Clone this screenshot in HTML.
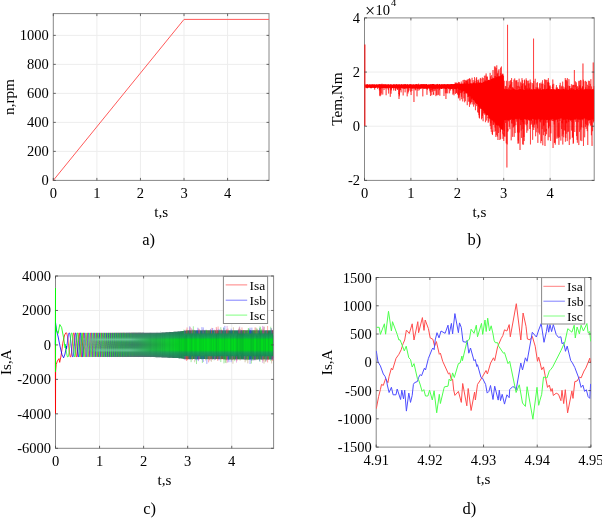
<!DOCTYPE html><html><head><meta charset="utf-8"><style>html,body{margin:0;padding:0;background:#fff}svg{display:block;will-change:transform}</style></head><body>
<svg width="602" height="518" viewBox="0 0 602 518" font-family='"Liberation Serif", serif' fill="#000">
<rect width="602" height="518" fill="#fff"/>
<path d="M96.88 13.60V180.40M140.45 13.60V180.40M184.03 13.60V180.40M227.60 13.60V180.40M53.30 151.39H269.00M53.30 122.38H269.00M53.30 93.37H269.00M53.30 64.37H269.00M53.30 35.36H269.00" stroke="#ededed" stroke-width="1" fill="none"/>
<rect x="53.30" y="13.60" width="215.70" height="166.80" fill="none" stroke="#888888" stroke-width="1"/>
<polyline points="53.3,180.4 184.03,19.4 269,19.4" fill="none" stroke="#ff5a5a" stroke-width="1"/>
<path d="M53.30 180.40v-2.5M53.30 13.60v2.5M96.88 180.40v-2.5M96.88 13.60v2.5M140.45 180.40v-2.5M140.45 13.60v2.5M184.03 180.40v-2.5M184.03 13.60v2.5M227.60 180.40v-2.5M227.60 13.60v2.5M53.30 180.40h2.5M269.00 180.40h-2.5M53.30 151.39h2.5M269.00 151.39h-2.5M53.30 122.38h2.5M269.00 122.38h-2.5M53.30 93.37h2.5M269.00 93.37h-2.5M53.30 64.37h2.5M269.00 64.37h-2.5M53.30 35.36h2.5M269.00 35.36h-2.5" stroke="#444" stroke-width="0.8" fill="none"/>
<text x="53.30" y="197.90" font-size="14.5" text-anchor="middle">0</text>
<text x="96.88" y="197.90" font-size="14.5" text-anchor="middle">1</text>
<text x="140.45" y="197.90" font-size="14.5" text-anchor="middle">2</text>
<text x="184.03" y="197.90" font-size="14.5" text-anchor="middle">3</text>
<text x="227.60" y="197.90" font-size="14.5" text-anchor="middle">4</text>
<text x="48.80" y="185.40" font-size="14.5" text-anchor="end">0</text>
<text x="48.80" y="156.39" font-size="14.5" text-anchor="end">200</text>
<text x="48.80" y="127.38" font-size="14.5" text-anchor="end">400</text>
<text x="48.80" y="98.37" font-size="14.5" text-anchor="end">600</text>
<text x="48.80" y="69.37" font-size="14.5" text-anchor="end">800</text>
<text x="48.80" y="40.36" font-size="14.5" text-anchor="end">1000</text>
<text x="161.15" y="217.40" font-size="15.2" text-anchor="middle">t,s</text>
<text transform="translate(14.30 97.00) rotate(-90)" font-size="15.2" text-anchor="middle">n,rpm</text>
<text x="148.70" y="245.30" font-size="16.5" text-anchor="middle">a)</text>
<path d="M410.90 17.90V180.40M457.31 17.90V180.40M503.71 17.90V180.40M550.12 17.90V180.40M364.50 126.23H594.20M364.50 72.07H594.20" stroke="#ededed" stroke-width="1" fill="none"/>
<rect x="364.50" y="17.90" width="229.70" height="162.50" fill="none" stroke="#888888" stroke-width="1"/>
<polygon points="365.5,84.56 366.2,84.64 366.9,84.4 367.6,84.25 368.3,84.64 369,84.39 369.7,84.36 370.4,84.49 371.1,84.73 371.8,84.54 372.5,84.33 373.2,84.53 373.9,84.24 374.6,84.45 375.3,84.53 376,84.46 376.7,84.22 377.4,84.56 378.1,84.39 378.8,84.62 379.5,84.34 380.2,84.46 380.9,84.52 381.6,84.24 382.3,84.45 383,84.37 383.7,84.22 384.4,84.35 385.1,84.59 385.8,84.67 386.5,84.48 387.2,84.52 387.9,84.4 388.6,84.37 389.3,84.65 390,84.5 390.7,84.6 391.4,84.23 392.1,84.63 392.8,84.44 393.5,84.25 394.2,84.43 394.9,84.59 395.6,84.43 396.3,84.35 397,84.16 397.7,84.38 398.4,84.3 399.1,84.15 399.8,84.15 400.5,84.62 401.2,84.34 401.9,84.56 402.6,84.42 403.3,84.3 404,84.5 404.7,84.19 405.4,84.12 406.1,84.52 406.8,84.32 407.5,84.12 408.2,84.5 408.9,84.47 409.6,84.2 410.3,84.19 411,84.57 411.7,84.27 412.4,84.57 413.1,84.58 413.8,84.35 414.5,84.46 415.2,84.3 415.9,84.29 416.6,84.11 417.3,84.34 418,84.2 418.7,84.41 419.4,84.38 420.1,84.23 420.8,84.17 421.5,84.17 422.2,84.48 422.9,84.36 423.6,84.35 424.3,84.21 425,84.28 425.7,84.37 426.4,84.08 427.1,84.43 427.8,84.41 428.5,84.5 429.2,84.48 429.9,84.49 430.6,84.05 431.3,84.16 432,84.12 432.7,84.04 433.4,84.11 434.1,84.03 434.8,84.49 435.5,84.42 436.2,84.32 436.9,84.3 437.6,84.41 438.3,84.43 439,84.17 439.7,84.06 440.4,84.4 441.1,84.43 441.8,84.06 442.5,84.43 443.2,84.28 443.9,84.29 444.6,84.32 445.3,84.39 446,84.14 446.7,84.41 447.4,84.06 448.1,84.3 448.8,84.25 449.5,84.16 450.2,84.19 450.9,84.01 451.6,84.03 452.3,84.37 453,84.14 453.7,84.06 454.4,84.12 455.1,83.69 455.8,84.26 456.5,83.62 457.2,83.65 457.9,83.62 458.6,84.52 459.3,83.77 460,84.11 460.7,83.86 461.4,83.75 462.1,83.38 462.8,84.17 463.5,84.01 464.2,83.25 464.9,84.05 465.6,83.42 466.3,83.97 467,83.19 467.7,83.97 468.4,83.84 469.1,84.07 469.8,83.84 470.5,83.64 471.2,83.75 471.9,83.67 472.6,83.22 473.3,82.78 474,83.35 474.7,83.32 475.4,83.09 476.1,83.7 476.8,82.73 477.5,83.72 478.2,83.35 478.9,83.56 479.6,82.53 480.3,82.45 481,82.79 481.7,82.79 482.4,82.78 483.1,82.39 483.8,81.83 484.5,81.43 485.2,81.7 485.9,80.7 486.6,81.49 487.3,80.51 488,80.27 488.7,79.83 489.4,79.73 490.1,80.39 490.8,79.3 491.5,79.12 492.2,78.86 492.9,78.99 493.6,78.43 494.3,78.73 495,77.56 495.7,78.3 496.4,77.12 497.1,76.81 497.8,76.88 498.5,76.05 499.2,76.44 499.9,75.72 500.6,76.19 501.3,75.82 502,75.37 502.7,75.03 503.4,74.26 504.1,87.93 504.8,90 505.5,89.3 506.2,89.09 506.9,89.01 507.6,89.59 508.3,89.24 509,89.74 509.7,90.04 510.4,89.4 511.1,89.9 511.8,89.7 512.5,89.56 513.2,88.98 513.9,88.92 514.6,89.46 515.3,89.76 516,89.78 516.7,89.58 517.4,90.02 518.1,89.44 518.8,89.56 519.5,89.61 520.2,89.13 520.9,89.14 521.6,89.8 522.3,89.56 523,89.46 523.7,89.88 524.4,89.67 525.1,89.57 525.8,89.79 526.5,89.46 527.2,89.5 527.9,89.89 528.6,89.91 529.3,89.44 530,88.94 530.7,89.93 531.4,89.57 532.1,89.71 532.8,89.4 533.5,89.25 534.2,89.42 534.9,89.32 535.6,89.35 536.3,90.04 537,89.35 537.7,89.96 538.4,89.72 539.1,89.94 539.8,89.49 540.5,89.4 541.2,89.89 541.9,89.82 542.6,89.35 543.3,89.14 544,89.75 544.7,88.97 545.4,89.88 546.1,88.97 546.8,89.2 547.5,89.35 548.2,89.21 548.9,89.53 549.6,89.14 550.3,89.25 551,89.21 551.7,89.41 552.4,89.75 553.1,89.06 553.8,89.82 554.5,90.01 555.2,89.65 555.9,89.8 556.6,89.21 557.3,89.49 558,89.43 558.7,89.06 559.4,89.11 560.1,90.05 560.8,89.12 561.5,89.47 562.2,89.45 562.9,89.22 563.6,89.12 564.3,89.39 565,89.88 565.7,90.01 566.4,89.7 567.1,89.7 567.8,89.83 568.5,90.04 569.2,89.04 569.9,88.94 570.6,90 571.3,89.63 572,89.71 572.7,90.04 573.4,89.3 574.1,88.92 574.8,89.73 575.5,89.92 576.2,89.3 576.9,89.06 577.6,89.26 578.3,90.01 579,89.98 579.7,89.92 580.4,88.9 581.1,89.19 581.8,89.86 582.5,89.15 583.2,90.03 583.9,89.74 584.6,89.88 585.3,89.52 586,89.56 586.7,89 587.4,89.82 588.1,89.28 588.8,89.45 589.5,89.25 590.2,89.66 590.9,89.35 591.6,89.74 592.3,88.93 593,89.76 593.7,89.78 593.7,118.97 593,118.79 592.3,120.61 591.6,119.23 590.9,120.04 590.2,120.08 589.5,120.12 588.8,120.37 588.1,119.81 587.4,119.76 586.7,118.96 586,120.33 585.3,118.38 584.6,118.58 583.9,118.61 583.2,118.94 582.5,118.94 581.8,119.95 581.1,118.64 580.4,120.19 579.7,119.27 579,119.93 578.3,118.97 577.6,119.37 576.9,118.74 576.2,118.49 575.5,120.11 574.8,119.31 574.1,120.04 573.4,119.53 572.7,119.76 572,119.67 571.3,119.9 570.6,120.68 569.9,120.29 569.2,119.06 568.5,120.43 567.8,118.81 567.1,119.74 566.4,118.42 565.7,120.44 565,118.69 564.3,119.3 563.6,119.78 562.9,120.2 562.2,118.69 561.5,118.34 560.8,118.7 560.1,118.36 559.4,118.98 558.7,118.63 558,119.84 557.3,118.64 556.6,119.35 555.9,119.13 555.2,120.14 554.5,119.88 553.8,119.47 553.1,119.07 552.4,118.77 551.7,120.15 551,118.46 550.3,119.03 549.6,120.61 548.9,119.81 548.2,119.44 547.5,119.83 546.8,119.84 546.1,119.94 545.4,119.37 544.7,120.06 544,120.15 543.3,119.06 542.6,119.61 541.9,119.4 541.2,119.44 540.5,120.29 539.8,118.78 539.1,119.05 538.4,118.48 537.7,119.49 537,118.94 536.3,120.43 535.6,119.7 534.9,119.37 534.2,120.7 533.5,119 532.8,118.74 532.1,119.7 531.4,119.9 530.7,119.69 530,119.24 529.3,120.01 528.6,120.18 527.9,119.21 527.2,119.11 526.5,120.11 525.8,119.21 525.1,119.25 524.4,119.27 523.7,119.93 523,119.79 522.3,120.24 521.6,120 520.9,119.39 520.2,120.41 519.5,118.83 518.8,118.48 518.1,119.81 517.4,118.4 516.7,119.64 516,118.5 515.3,119.56 514.6,119.28 513.9,120.6 513.2,120.05 512.5,120.15 511.8,118.8 511.1,119.1 510.4,119.96 509.7,119.34 509,119.84 508.3,120.22 507.6,120.23 506.9,120.62 506.2,119.53 505.5,120.55 504.8,119.73 504.1,120.01 503.4,129.2 502.7,129.98 502,129.67 501.3,128.88 500.6,128.29 499.9,127 499.2,125.46 498.5,125.47 497.8,126.33 497.1,124.77 496.4,125.29 495.7,124.64 495,122.07 494.3,121.53 493.6,122.3 492.9,120.99 492.2,120.24 491.5,119.56 490.8,119.21 490.1,118.06 489.4,116.62 488.7,116.71 488,115.1 487.3,115.05 486.6,115.6 485.9,115.09 485.2,113.09 484.5,112.05 483.8,110.68 483.1,110.06 482.4,109.72 481.7,108.96 481,108.87 480.3,107.52 479.6,108.66 478.9,105.68 478.2,106.47 477.5,103.94 476.8,104.51 476.1,102.72 475.4,102.88 474.7,101.72 474,100.02 473.3,100.21 472.6,98.43 471.9,97.84 471.2,97.93 470.5,95.9 469.8,95.75 469.1,96.17 468.4,95.88 467.7,94.38 467,92.62 466.3,93.67 465.6,92.15 464.9,90.73 464.2,91.33 463.5,90.78 462.8,91.69 462.1,91.26 461.4,91.03 460.7,91.26 460,89.4 459.3,90.76 458.6,89.22 457.9,88.58 457.2,88.51 456.5,89.84 455.8,88.54 455.1,89.43 454.4,88.75 453.7,88.53 453,88.82 452.3,88.65 451.6,88.92 450.9,88.63 450.2,88.9 449.5,88.49 448.8,89.18 448.1,88.44 447.4,88.24 446.7,89.1 446,88.92 445.3,89 444.6,88.82 443.9,88.27 443.2,88.81 442.5,88.36 441.8,88.92 441.1,88.94 440.4,88.45 439.7,88.76 439,88.44 438.3,88.16 437.6,89.07 436.9,88.14 436.2,88.28 435.5,88.74 434.8,88.61 434.1,88.38 433.4,88.74 432.7,88.64 432,88.61 431.3,88.28 430.6,88.05 429.9,88.07 429.2,88.54 428.5,88.81 427.8,88.11 427.1,88.8 426.4,88.39 425.7,88.16 425,88.59 424.3,88.92 423.6,88.61 422.9,88.42 422.2,88.05 421.5,88.84 420.8,87.97 420.1,88.31 419.4,88.87 418.7,88.61 418,88.69 417.3,88.83 416.6,88.3 415.9,88.79 415.2,88.73 414.5,88.43 413.8,88.74 413.1,88.35 412.4,88.27 411.7,88.09 411,88.38 410.3,88.15 409.6,88.16 408.9,88.01 408.2,88.29 407.5,88.4 406.8,88.58 406.1,87.89 405.4,88.5 404.7,88.67 404,88.64 403.3,88.24 402.6,88.4 401.9,88.05 401.2,88.22 400.5,88.35 399.8,87.81 399.1,88.05 398.4,88.42 397.7,88.21 397,88.53 396.3,87.88 395.6,88.01 394.9,88.27 394.2,87.8 393.5,88.54 392.8,87.75 392.1,88.5 391.4,88.43 390.7,88.24 390,87.87 389.3,87.78 388.6,87.65 387.9,87.79 387.2,87.69 386.5,88.17 385.8,88.12 385.1,87.9 384.4,87.66 383.7,87.89 383,88.09 382.3,88.36 381.6,88.02 380.9,88.21 380.2,88.31 379.5,88.34 378.8,87.6 378.1,87.44 377.4,87.63 376.7,87.62 376,87.66 375.3,87.92 374.6,88.32 373.9,87.91 373.2,87.43 372.5,87.54 371.8,88.36 371.1,88.16 370.4,87.91 369.7,87.79 369,87.62 368.3,87.8 367.6,88.14 366.9,88.19 366.2,87.53 365.5,88.2" fill="#ff0000"/>
<path d="M364.9 126V44.5" stroke="#ff0000" stroke-width="1"/>
<polyline points="365,84.5 365.5,85.5 365.6,87.34 365.73,85.45 365.86,84.75 365.99,85.39 366.12,84.71 366.25,85.21 366.38,87.55 366.51,86.39 366.64,84.75 366.77,87.43 366.9,87.17 367.03,88.2 367.16,87.38 367.29,84.32 367.42,87.02 367.55,87.91 367.68,86.06 367.81,87.72 367.94,84.63 368.07,85 368.2,86.39 368.33,86.43 368.46,85.57 368.59,87.01 368.72,87.18 368.85,85.15 368.98,86.13 369.11,86.56 369.24,84.94 369.37,86.95 369.5,85.39 369.63,86.31 369.76,86.37 369.89,87.24 370.02,84.83 370.15,85.07 370.28,87.55 370.41,88.16 370.54,86.07 370.67,84.72 370.8,86.13 370.93,87 371.06,84.96 371.19,87.8 371.32,84.87 371.45,85.53 371.58,84.52 371.71,85.03 371.84,86.72 371.97,85.04 372.1,85.44 372.23,88.03 372.36,86.06 372.49,86.47 372.62,84.59 372.75,87.05 372.88,85.85 373.01,85.86 373.14,87.61 373.27,86.99 373.4,84.95 373.53,86.53 373.66,84.97 373.79,86.1 373.92,87.8 374.05,84.91 374.18,84.82 374.31,85.61 374.44,84.58 374.57,86.57 374.7,89.7 374.83,86.41 374.96,86.8 375.09,85.01 375.22,85.88 375.35,87.54 375.48,85.38 375.61,87.72 375.74,85.75 375.87,85.87 376,87.08 376.13,86.01 376.26,85.96 376.39,84.67 376.52,86.42 376.65,87.24 376.78,85.27 376.91,85.52 377.04,85.76 377.17,86.67 377.3,84.83 377.43,87.09 377.56,86.67 377.69,89.05 377.82,85.34 377.95,86.58 378.08,84.99 378.21,84.74 378.34,85.16 378.47,85.16 378.6,85.46 378.73,87.92 378.86,84.6 378.99,86.56 379.12,85.63 379.25,84.47 379.38,90.38 379.51,88.23 379.64,84.7 379.77,95.61 379.9,85.17 380.03,84.48 380.16,96.24 380.29,86.69 380.42,88.69 380.55,84.42 380.68,84.44 380.81,84.8 380.94,95.18 381.07,85.62 381.2,93.44 381.33,86.38 381.46,84.8 381.59,86.51 381.72,87.33 381.85,86.28 381.98,83.76 382.11,88.09 382.24,87.32 382.37,86.05 382.5,88 382.63,87.91 382.76,94.56 382.89,85.55 383.02,84.47 383.15,85.15 383.28,86.23 383.41,87.63 383.54,85.44 383.67,86.24 383.8,88.01 383.93,86.5 384.06,90.06 384.19,85.99 384.32,87.83 384.45,88.15 384.58,87.42 384.71,87.05 384.84,85.19 384.97,84.48 385.1,85.13 385.23,87.93 385.36,84.64 385.49,86.8 385.62,88.46 385.75,84.19 385.88,86.24 386.01,86.79 386.14,95.26 386.27,86.21 386.4,87.53 386.53,87.33 386.66,87.03 386.79,86.6 386.92,84.62 387.05,86.39 387.18,85.69 387.31,88.5 387.44,84.78 387.57,87.91 387.7,87.65 387.83,85.07 387.96,85.16 388.09,87.61 388.22,86.32 388.35,90.17 388.48,84.88 388.61,93.55 388.74,84.94 388.87,84.37 389,88.29 389.13,85.96 389.26,85.17 389.39,85.48 389.52,86.11 389.65,85.32 389.78,85.55 389.91,85.86 390.04,87.63 390.17,84.76 390.3,96.82 390.43,84.35 390.56,84.47 390.69,88.38 390.82,89.79 390.95,85.58 391.08,93.71 391.21,86.48 391.34,90.4 391.47,85.99 391.6,85.85 391.73,84.83 391.86,87.23 391.99,85.36 392.12,87.06 392.25,85.94 392.38,85.06 392.51,87.06 392.64,87.63 392.77,86.13 392.9,87.81 393.03,86.98 393.16,87.87 393.29,84.52 393.42,86.65 393.55,90.02 393.68,90.49 393.81,89.1 393.94,86.64 394.07,87.88 394.2,86.52 394.33,84.29 394.46,84.85 394.59,86.83 394.72,87.3 394.85,87.74 394.98,88.21 395.11,86.08 395.24,90.18 395.37,86.45 395.5,87.6 395.63,90.94 395.76,86.12 395.89,84.76 396.02,86.58 396.15,87.35 396.28,84.61 396.41,85.13 396.54,85.61 396.67,86.75 396.8,84.44 396.93,89.1 397.06,86.46 397.19,87.25 397.32,85.48 397.45,89.78 397.58,86.65 397.71,89.61 397.84,86.59 397.97,87.98 398.1,85.93 398.23,87.74 398.36,86.17 398.49,86.22 398.62,85.46 398.75,94.04 398.88,87.6 399.01,99 399.14,93.38 399.27,96.34 399.4,85.54 399.53,94.93 399.66,84.86 399.79,85.32 399.92,86.82 400.05,87.43 400.18,89.92 400.31,88.15 400.44,90.2 400.57,85.9 400.7,86.5 400.83,87.92 400.96,88.47 401.09,92.37 401.22,87.82 401.35,87.96 401.48,84.38 401.61,88.06 401.74,84.61 401.87,87.89 402,87.12 402.13,87.6 402.26,84.76 402.39,84.9 402.52,88.2 402.65,86.38 402.78,85.47 402.91,87.88 403.04,85.63 403.17,95.45 403.3,88.22 403.43,86.68 403.56,87.2 403.69,88.27 403.82,84.57 403.95,87.21 404.08,86.75 404.21,88.6 404.34,84.85 404.47,84.56 404.6,85.03 404.73,86.48 404.86,88 404.99,85.71 405.12,92.33 405.25,84.43 405.38,85.05 405.51,86.39 405.64,88.21 405.77,85.89 405.9,86.18 406.03,85.79 406.16,85.46 406.29,88.39 406.42,85.5 406.55,87.67 406.68,86.78 406.81,85.76 406.94,86.09 407.07,88.11 407.2,96.35 407.33,87.47 407.46,87.76 407.59,87.13 407.72,86.35 407.85,85.15 407.98,93.48 408.11,86.97 408.24,86.94 408.37,91.8 408.5,86.78 408.63,85.24 408.76,86.18 408.89,85.79 409.02,90.56 409.15,87.98 409.28,84.58 409.41,85.38 409.54,85.85 409.67,86.28 409.8,87.09 409.93,87.03 410.06,87.02 410.19,86.75 410.32,86.57 410.45,84.09 410.58,89.37 410.71,91.75 410.84,85.75 410.97,91.35 411.1,95.06 411.23,89.24 411.36,84.81 411.49,85.44 411.62,88.26 411.75,87.49 411.88,90.94 412.01,85.49 412.14,87.31 412.27,88.9 412.4,88.29 412.53,87.81 412.66,87.29 412.79,85.22 412.92,86.83 413.05,85.55 413.18,84.43 413.31,86.11 413.44,85.27 413.57,87.03 413.7,85.09 413.83,87.32 413.96,102 414.09,85.28 414.22,87.61 414.35,87.7 414.48,85.09 414.61,87.26 414.74,87.14 414.87,85.53 415,86.41 415.13,85.65 415.26,90.17 415.39,86.03 415.52,87.08 415.65,88.3 415.78,90.31 415.91,89.47 416.04,84.68 416.17,87.82 416.3,87.55 416.43,85.76 416.56,85.12 416.69,85.56 416.82,85.68 416.95,95.9 417.08,96.36 417.21,86.95 417.34,85.13 417.47,88.44 417.6,85.98 417.73,86.5 417.86,87.25 417.99,90.73 418.12,88.39 418.25,85.7 418.38,88.45 418.51,86.2 418.64,83.7 418.77,87.5 418.9,86.5 419.03,87.08 419.16,87.57 419.29,90.23 419.42,88.46 419.55,88.8 419.68,87.36 419.81,87.18 419.94,85.92 420.07,85.52 420.2,87.47 420.33,88.92 420.46,87.09 420.59,87.29 420.72,88.62 420.85,85.47 420.98,88.39 421.11,84.45 421.24,87.61 421.37,86.76 421.5,85.77 421.63,87.87 421.76,85.1 421.89,84.29 422.02,86.88 422.15,84.6 422.28,87.59 422.41,84.58 422.54,86.94 422.67,86.17 422.8,96.37 422.93,87.27 423.06,84.64 423.19,88.46 423.32,88.69 423.45,85.64 423.58,87.69 423.71,84.3 423.84,86.52 423.97,85.41 424.1,85.22 424.23,87.73 424.36,84.4 424.49,85.54 424.62,87.87 424.75,87.89 424.88,87.81 425.01,85.4 425.14,85.7 425.27,87.77 425.4,88.63 425.53,86.23 425.66,88.23 425.79,87.35 425.92,85.43 426.05,84.31 426.18,85.45 426.31,89.15 426.44,87.33 426.57,84.24 426.7,87.88 426.83,86.64 426.96,94.83 427.09,86.45 427.22,88.78 427.35,85.68 427.48,89.67 427.61,85.5 427.74,85.69 427.87,86.89 428,85.12 428.13,86.45 428.26,87.29 428.39,87.87 428.52,87.11 428.65,84.95 428.78,85.36 428.91,84.79 429.04,84.37 429.17,87.45 429.3,84.83 429.43,87.83 429.56,88.74 429.69,86.24 429.82,90.7 429.95,87.06 430.08,87.19 430.21,92.48 430.34,87.35 430.47,96.03 430.6,85.44 430.73,86.48 430.86,85.33 430.99,85.83 431.12,86.14 431.25,90.01 431.38,88.54 431.51,85.53 431.64,85.8 431.77,95.26 431.9,85.07 432.03,85.87 432.16,91.95 432.29,87.52 432.42,84.35 432.55,90.51 432.68,85.93 432.81,87.87 432.94,84.19 433.07,88.52 433.2,88.57 433.33,87.06 433.46,94.31 433.59,92.46 433.72,94.96 433.85,92.8 433.98,85.37 434.11,91.17 434.24,86.33 434.37,86.26 434.5,86.37 434.63,86.01 434.76,89.15 434.89,85.34 435.02,84.76 435.15,90.63 435.28,85.3 435.41,86.43 435.54,88.46 435.67,86.12 435.8,86.06 435.93,96.13 436.06,88.85 436.19,86.81 436.32,88.32 436.45,86.84 436.58,95.11 436.71,89.68 436.84,88.36 436.97,87.85 437.1,88.6 437.23,84.53 437.36,84.29 437.49,85.14 437.62,83.93 437.75,95.26 437.88,85.87 438.01,87.73 438.14,87.95 438.27,86.96 438.4,88.18 438.53,85.77 438.66,94.75 438.79,85.27 438.92,85.6 439.05,85.75 439.18,88.63 439.31,88.58 439.44,90.13 439.57,84.28 439.7,87.85 439.83,95.74 439.96,84.88 440.09,86.68 440.22,85.6 440.35,85.31 440.48,85.02 440.61,88.14 440.74,87.29 440.87,85.48 441,88.49 441.13,86.79 441.26,85.56 441.39,84.75 441.52,87.8 441.65,88.54 441.78,88.55 441.91,86.54 442.04,88.69 442.17,87.42 442.3,84.32 442.43,85.33 442.56,87.92 442.69,87.5 442.82,86.29 442.95,85.82 443.08,87.7 443.21,88.21 443.34,87.56 443.47,85.71 443.6,86.93 443.73,84.73 443.86,88.53 443.99,96.01 444.12,84.79 444.25,86.16 444.38,87.91 444.51,84.46 444.64,87.32 444.77,85.44 444.9,88.12 445.03,86.06 445.16,84.26 445.29,89.42 445.42,93.31 445.55,86.77 445.68,85.84 445.81,86.33 445.94,99 446.07,88.24 446.2,86.55 446.33,84.62 446.46,86.46 446.59,93.25 446.72,87.05 446.85,84.63 446.98,87.56 447.11,87.1 447.24,85.97 447.37,86.72 447.5,87.94 447.63,88.38 447.76,93.37 447.89,87.6 448.02,86.33 448.15,84.38 448.28,86.42 448.41,85.44 448.54,85.32 448.67,86.72 448.8,88.19 448.93,85.35 449.06,87.09 449.19,87.72 449.32,86.38 449.45,84.8 449.58,93.31 449.71,86.87 449.84,84.88 449.97,87.57 450.1,89.17 450.23,88.35 450.36,86.49 450.49,86.23 450.62,90.51 450.75,88.9 450.88,84.5 451.01,87.38 451.14,88.64 451.27,87.09 451.4,86.23 451.53,85.51 451.66,88.67 451.79,86.52 451.92,85.63 452.05,84.29 452.18,88.95 452.31,88.52 452.44,84.09 452.57,87.42 452.7,85.96 452.83,94.56 452.96,88.8 453.09,90.51 453.22,87.54 453.35,86.59 453.48,87.07 453.61,84.63 453.74,93.58 453.87,87.86 454,95.31 454.13,88.45 454.26,86.71 454.39,87.07 454.52,84.93 454.65,85.84 454.78,88.89 454.91,85.41 455.04,88.89 455.17,82.46 455.3,83.78 455.43,84.12 455.56,94.01 455.69,82.9 455.82,86.88 455.95,84.08 456.08,83.98 456.21,84.16 456.34,92.83 456.47,84.13 456.6,93.03 456.73,82.57 456.86,83.78 456.99,83.26 457.12,84.05 457.25,91.46 457.38,94.26 457.51,89.75 457.64,89.6 457.77,83.66 457.9,84.05 458.03,94.73 458.16,83.74 458.29,83.44 458.42,98.38 458.55,81.91 458.68,86.02 458.81,96.56 458.94,90.54 459.07,97.71 459.2,83.45 459.33,82.05 459.46,90.02 459.59,94.8 459.72,83.27 459.85,91.09 459.98,100.5 460.11,92.6 460.24,83.93 460.37,88.63 460.5,87.61 460.63,93.12 460.76,91.35 460.89,92.56 461.02,90.82 461.15,83.9 461.28,81.54 461.41,96.75 461.54,90.64 461.67,99.17 461.8,94.98 461.93,83.82 462.06,93.16 462.19,83.68 462.32,91.76 462.45,91.44 462.58,92.27 462.71,101.41 462.84,97.29 462.97,81.26 463.1,80.12 463.23,88.57 463.36,87.75 463.49,91.22 463.62,89.66 463.75,83.62 463.88,98.4 464.01,80.09 464.14,79.75 464.27,94.01 464.4,83.74 464.53,82.25 464.66,102.31 464.79,80.07 464.92,80.01 465.05,84.94 465.18,89.31 465.31,101.1 465.44,94.97 465.57,80.48 465.7,85.06 465.83,93.07 465.96,83.56 466.09,93.35 466.22,83.65 466.35,81.03 466.48,82.72 466.61,93.03 466.74,79.83 466.87,91.82 467,80.98 467.13,93.78 467.26,105.2 467.39,87.58 467.52,79.69 467.65,88.92 467.78,82.29 467.91,97.03 468.04,83.36 468.17,83.58 468.3,78.95 468.43,81 468.56,96.76 468.69,95.47 468.82,101.69 468.95,98.18 469.08,93.75 469.21,101.58 469.34,78.77 469.47,106.87 469.6,78.25 469.73,82.15 469.86,83.36 469.99,96.21 470.12,83.35 470.25,84.55 470.38,79.44 470.51,103.35 470.64,83.78 470.77,104.52 470.9,103.97 471.03,83.42 471.16,102.24 471.29,83.44 471.42,97.59 471.55,99.02 471.68,84.79 471.81,97.98 471.94,102.13 472.07,77.77 472.2,99.6 472.33,89.08 472.46,87.87 472.59,84.32 472.72,99.73 472.85,104.39 472.98,83.12 473.11,80.07 473.24,81.97 473.37,83.07 473.5,91.61 473.63,106.62 473.76,87.7 473.89,82.11 474.02,83.3 474.15,94.06 474.28,100.83 474.41,104.42 474.54,77.14 474.67,99.84 474.8,92.86 474.93,80.76 475.06,81.04 475.19,83.24 475.32,103.31 475.45,110.22 475.58,94.98 475.71,95.91 475.84,100.65 475.97,82.85 476.1,82.89 476.23,78.42 476.36,83.03 476.49,103.99 476.62,77.19 476.75,106.12 476.88,82.8 477.01,99.77 477.14,80.14 477.27,80.01 477.4,83.06 477.53,82.68 477.66,102.61 477.79,111.99 477.92,82.45 478.05,105.19 478.18,112.97 478.31,105.76 478.44,80.54 478.57,81.87 478.7,107.08 478.83,79.45 478.96,115.16 479.09,82.77 479.22,117.68 479.35,107.52 479.48,118.44 479.61,105.03 479.74,108.3 479.87,102.57 480,92.78 480.13,82.68 480.26,106.22 480.39,77.95 480.52,81.71 480.65,109.09 480.78,82.4 480.91,81.15 481.04,78.73 481.17,81.5 481.3,109.46 481.43,112.96 481.56,119.31 481.69,109.81 481.82,97.5 481.95,110.17 482.08,115.87 482.21,118.13 482.34,77.47 482.47,115.76 482.6,93.73 482.73,107.34 482.86,93.05 482.99,111.26 483.12,121.23 483.25,78.1 483.38,111.39 483.51,96.11 483.64,81.9 483.77,112.99 483.9,112.26 484.03,113.78 484.16,102.01 484.29,112.93 484.42,75.73 484.55,101.53 484.68,103.55 484.81,114.82 484.94,79.85 485.07,80.23 485.2,113.21 485.33,80.89 485.46,122.2 485.59,119.22 485.72,114.42 485.85,75.51 485.98,87.14 486.11,73.46 486.24,101.25 486.37,100.87 486.5,89.19 486.63,120.53 486.76,76.86 486.89,76.86 487.02,95.37 487.15,102.51 487.28,115.28 487.41,76.61 487.54,102.6 487.67,82.77 487.8,111.49 487.93,118.21 488.06,116.72 488.19,122.79 488.32,117.08 488.45,80.21 488.58,88.1 488.71,79.96 488.84,121.46 488.97,111.65 489.1,112.84 489.23,117.44 489.36,88.69 489.49,118.3 489.62,87.64 489.75,118.29 489.88,103.48 490.01,119.21 490.14,72.88 490.27,126.09 490.4,101.42 490.53,76.39 490.66,77.4 490.79,123.21 490.92,111.46 491.05,129.11 491.18,110.22 491.31,131.8 491.44,119.55 491.57,75.18 491.7,77.72 491.83,120.25 491.96,79.2 492.09,121.43 492.22,134.09 492.35,130.51 492.48,135.04 492.61,77.61 492.74,98.33 492.87,86.62 493,70.02 493.13,124.83 493.26,88.04 493.39,95.59 493.52,78.13 493.65,124.75 493.78,80.69 493.91,78.25 494.04,131.73 494.17,127.88 494.3,122.3 494.43,66.44 494.56,67.63 494.69,123.31 494.82,77.65 494.95,76.04 495.08,127.58 495.21,123.18 495.34,66.61 495.47,71.58 495.6,131.23 495.73,76.31 495.86,137.02 495.99,77.55 496.12,68 496.25,77.38 496.38,135.2 496.51,124.51 496.64,125.23 496.77,65.35 496.9,124.77 497.03,123.99 497.16,89.23 497.29,73.9 497.42,136.5 497.55,120.81 497.68,72.83 497.81,73.72 497.94,140 498.07,75.81 498.2,70.44 498.33,76.56 498.46,131.96 498.59,133 498.72,129.99 498.85,126.27 498.98,69.21 499.11,72.91 499.24,74.13 499.37,109.54 499.5,127.55 499.63,109.47 499.76,136.96 499.89,140.01 500.02,137.82 500.15,133.56 500.28,80.54 500.41,131.87 500.54,67.68 500.67,138.93 500.8,73.08 500.93,97.13 501.06,97.66 501.19,74.67 501.32,73.3 501.45,66.5 501.58,80.48 501.71,75.25 501.84,79.14 501.97,129.68 502.1,74.46 502.23,129.03 502.36,105.72 502.49,74.48 502.62,133.52 502.75,73.61 502.88,138.82 503.01,137.36 503.14,132.93 503.27,134.65 503.4,135.44 503.53,75.88 503.66,98.03 503.79,141 503.92,123.31 504.05,131.11 504.18,80.78 504.31,119.55 504.44,89.05 504.57,136.4 504.7,89.5 504.83,123.22 504.96,136.66 505.09,118.52 505.22,119.5 505.35,85.93 505.48,91.94 505.61,122.96 505.74,120.97 505.87,89.01 506,86.36 506.13,132.09 506.26,143.33 506.39,80.77 506.52,84.88 506.65,122.97 506.78,129.13 506.91,167.5 507.04,89.07 507.17,144.4 507.3,97.32 507.43,86.79 507.56,24.8 507.69,131.96 507.82,128.81 507.95,130.73 508.08,117.9 508.21,115.29 508.34,87.5 508.47,121.3 508.6,119.55 508.73,87.97 508.86,87.76 508.99,81.21 509.12,88.13 509.25,126.89 509.38,89.1 509.51,120.26 509.64,85.44 509.77,120.98 509.9,129.22 510.03,88.83 510.16,80.85 510.29,88.38 510.42,84.33 510.55,119.55 510.68,110.38 510.81,80.02 510.94,82.68 511.07,87.46 511.2,140.34 511.33,126.51 511.46,87.7 511.59,78.11 511.72,123.13 511.85,83.07 511.98,82.13 512.11,123.75 512.24,122.99 512.37,87.82 512.5,89.45 512.63,136.86 512.76,86.99 512.89,114.32 513.02,109.75 513.15,127.55 513.28,124.42 513.41,89.01 513.54,88.22 513.67,126.69 513.8,82.18 513.93,79.67 514.06,126.79 514.19,136.86 514.32,89.5 514.45,121.33 514.58,126.24 514.71,78.42 514.84,119.66 514.97,126.14 515.1,133.07 515.23,93.05 515.36,103.81 515.49,88.18 515.62,80.48 515.75,119.57 515.88,125.21 516.01,119.53 516.14,116.29 516.27,87.24 516.4,86.66 516.53,80.67 516.66,84.76 516.79,121.67 516.92,80.04 517.05,88.94 517.18,85.98 517.31,89.41 517.44,132.53 517.57,125.01 517.7,89.5 517.83,129.04 517.96,143.68 518.09,82.19 518.22,140.48 518.35,96.6 518.48,101.6 518.61,143.33 518.74,127.58 518.87,85.81 519,88.07 519.13,78.66 519.26,132.56 519.39,88.66 519.52,93.11 519.65,102.32 519.78,86.83 519.91,124.55 520.04,150 520.17,89.28 520.3,119.63 520.43,125.12 520.56,119.7 520.69,82.83 520.82,81.74 520.95,119.52 521.08,83.1 521.21,130.58 521.34,109.76 521.47,137.85 521.6,119.5 521.73,85.83 521.86,107.71 521.99,78.17 522.12,120.52 522.25,122.03 522.38,84.04 522.51,144.41 522.64,80.14 522.77,120.79 522.9,129.09 523.03,89.41 523.16,120 523.29,123.8 523.42,106.27 523.55,144.67 523.68,83.81 523.81,83.26 523.94,137 524.07,120.47 524.2,141.05 524.33,89.5 524.46,79.63 524.59,89.48 524.72,80.56 524.85,84.39 524.98,123.72 525.11,124.33 525.24,121.47 525.37,85.85 525.5,88.83 525.63,100.36 525.76,85.33 525.89,119.55 526.02,85.61 526.15,78.35 526.28,125.37 526.41,90.54 526.54,80.05 526.67,120.04 526.8,132.77 526.93,119.53 527.06,87.91 527.19,89.45 527.32,123.82 527.45,80.9 527.58,80.75 527.71,128.79 527.84,130.55 527.97,88.92 528.1,95.61 528.23,83.49 528.36,88.24 528.49,95.69 528.62,80.67 528.75,88.49 528.88,99.13 529.01,114.14 529.14,120.5 529.27,83.35 529.4,120.49 529.53,88.99 529.66,87.78 529.79,129.03 529.92,89.19 530.05,88.85 530.18,79.55 530.31,89.35 530.44,144.45 530.57,129.71 530.7,87.94 530.83,82.34 530.96,125 531.09,109.07 531.22,120.97 531.35,89.06 531.48,113.51 531.61,114.18 531.74,123.77 531.87,120.01 532,119.53 532.13,115.88 532.26,83.05 532.39,119.52 532.52,123.43 532.65,139.82 532.78,120.37 532.91,126.95 533.04,89.37 533.17,89.24 533.3,84.64 533.43,103.24 533.56,38.6 533.69,130.02 533.82,81.04 533.95,89.23 534.08,127.7 534.21,121.28 534.34,108.35 534.47,124.7 534.6,89.5 534.73,123.56 534.86,121.75 534.99,87.28 535.12,80.54 535.25,78.8 535.38,101.01 535.51,127.52 535.64,136.26 535.77,120.28 535.9,90.46 536.03,87.17 536.16,87.77 536.29,124.49 536.42,117.05 536.55,88.76 536.68,120.25 536.81,132.28 536.94,83 537.07,122.79 537.2,86.53 537.33,82.05 537.46,121.47 537.59,128.35 537.72,87.85 537.85,142.88 537.98,87.53 538.11,102.28 538.24,119.66 538.37,89.22 538.5,106.08 538.63,89.44 538.76,119.65 538.89,132.71 539.02,89.27 539.15,89.28 539.28,119.65 539.41,121.87 539.54,134.45 539.67,83.28 539.8,106.51 539.93,121.7 540.06,83.49 540.19,120.32 540.32,88.34 540.45,122.39 540.58,113.24 540.71,107.49 540.84,143.23 540.97,86.1 541.1,82.56 541.23,83.54 541.36,85.02 541.49,140.97 541.62,102.63 541.75,120.13 541.88,84.02 542.01,111.9 542.14,129.08 542.27,127.17 542.4,81.44 542.53,80.3 542.66,135.41 542.79,145.24 542.92,104.54 543.05,83.69 543.18,108.4 543.31,89.49 543.44,135.18 543.57,100.75 543.7,125.6 543.83,89.5 543.96,125.38 544.09,94.95 544.22,97.64 544.35,131.86 544.48,79.31 544.61,118.6 544.74,85.14 544.87,139.5 545,146 545.13,120.89 545.26,89.44 545.39,126.22 545.52,136.04 545.65,79.63 545.78,117.49 545.91,122.72 546.04,80.1 546.17,124.96 546.3,131.15 546.43,128.88 546.56,134.29 546.69,88.89 546.82,114.88 546.95,120.03 547.08,79.87 547.21,97.67 547.34,119.5 547.47,84.19 547.6,82.32 547.73,93.62 547.86,122.58 547.99,88.36 548.12,140.31 548.25,119.5 548.38,78.15 548.51,128.44 548.64,81.84 548.77,127.88 548.9,82.9 549.03,89.35 549.16,137.2 549.29,88.67 549.42,85.72 549.55,119.78 549.68,126.32 549.81,86.65 549.94,89.17 550.07,92.21 550.2,85.5 550.33,119.5 550.46,96.68 550.59,140.96 550.72,116.94 550.85,133.33 550.98,120.25 551.11,92.54 551.24,120.64 551.37,89.35 551.5,93.35 551.63,94.47 551.76,89.12 551.89,92.29 552.02,98.51 552.15,112.01 552.28,86.89 552.41,87.91 552.54,84.55 552.67,121.01 552.8,79.49 552.93,88.51 553.06,148 553.19,126.15 553.32,88.96 553.45,121.1 553.58,87.09 553.71,83.8 553.84,88.54 553.97,120.85 554.1,122.2 554.23,124.51 554.36,120.44 554.49,143.08 554.62,89.27 554.75,121.56 554.88,89.46 555.01,142.46 555.14,107.16 555.27,144.64 555.4,143.51 555.53,131.47 555.66,119.78 555.79,89.47 555.92,119.34 556.05,119.94 556.18,87.55 556.31,89.18 556.44,85.08 556.57,119.56 556.7,88.68 556.83,128.26 556.96,138.81 557.09,88.67 557.22,137.65 557.35,94.58 557.48,87.39 557.61,108.11 557.74,121.76 557.87,94.98 558,130.66 558.13,136.33 558.26,88.85 558.39,106.09 558.52,89.35 558.65,137.96 558.78,122.73 558.91,144.85 559.04,135.15 559.17,112.21 559.3,120.1 559.43,137.16 559.56,94.07 559.69,85.25 559.82,119.59 559.95,120.94 560.08,100.34 560.21,82.79 560.34,87.8 560.47,88.49 560.6,88.92 560.73,121.36 560.86,140.58 560.99,119.51 561.12,95.43 561.25,86.7 561.38,122 561.51,128.98 561.64,121.15 561.77,122.74 561.9,85.75 562.03,123.26 562.16,136.29 562.29,121.99 562.42,92.63 562.55,123.46 562.68,81.6 562.81,144.5 562.94,92.99 563.07,134.31 563.2,86.51 563.33,96.67 563.46,88.75 563.59,88.77 563.72,137.25 563.85,127.78 563.98,89.47 564.11,99.91 564.24,99.57 564.37,130.18 564.5,89.47 564.63,119.78 564.76,89.18 564.89,87.46 565.02,88.46 565.15,130.94 565.28,78.06 565.41,141.72 565.54,89.48 565.67,80.09 565.8,137.86 565.93,119.63 566.06,88.49 566.19,133.73 566.32,79.78 566.45,122.4 566.58,121.07 566.71,123.35 566.84,120.18 566.97,81.22 567.1,123.48 567.23,141.14 567.36,78.05 567.49,85.57 567.62,88.95 567.75,128.25 567.88,132.13 568.01,94.57 568.14,85.63 568.27,121.59 568.4,131.47 568.53,117.73 568.66,122.08 568.79,110.8 568.92,79.15 569.05,84.54 569.18,140.93 569.31,145.03 569.44,89.49 569.57,86.09 569.7,119.61 569.83,86.04 569.96,134.13 570.09,139.39 570.22,125.13 570.35,89.11 570.48,88.32 570.61,89.24 570.74,119.71 570.87,106.01 571,88.51 571.13,89.31 571.26,120.13 571.39,84.22 571.52,130.55 571.65,125.37 571.78,87.74 571.91,122.01 572.04,120.71 572.17,88.4 572.3,137.92 572.43,122.31 572.56,136.92 572.69,84.77 572.82,122.84 572.95,85.66 573.08,88.22 573.21,143.87 573.34,89.46 573.47,142.79 573.6,85.16 573.73,86.4 573.86,84.9 573.99,84.97 574.12,89.46 574.25,88.83 574.38,70 574.51,123.8 574.64,125.21 574.77,131.98 574.9,107.04 575.03,87.42 575.16,85.69 575.29,86.54 575.42,81.34 575.55,84.9 575.68,121.05 575.81,121.81 575.94,88.91 576.07,84.69 576.2,89.18 576.33,82.38 576.46,124.47 576.59,136.09 576.72,125.61 576.85,86.81 576.98,106.6 577.11,139.92 577.24,89.47 577.37,142.74 577.5,89.5 577.63,86.07 577.76,86.27 577.89,119.5 578.02,97.08 578.15,122.19 578.28,87.94 578.41,87.72 578.54,88.3 578.67,88.46 578.8,145.06 578.93,81.11 579.06,119.67 579.19,80.73 579.32,89.42 579.45,131.84 579.58,104.51 579.71,88.57 579.84,85.26 579.97,92.04 580.1,88.34 580.23,85.83 580.36,97.8 580.49,140.55 580.62,79.95 580.75,129.62 580.88,88.82 581.01,80.47 581.14,119.62 581.27,120.38 581.4,127.29 581.53,111.31 581.66,88.19 581.79,141.13 581.92,89.21 582.05,88.96 582.18,88.4 582.31,86.88 582.44,118.13 582.57,86.17 582.7,119.92 582.83,120.27 582.96,63.5 583.09,120.59 583.22,127.66 583.35,79.71 583.48,146 583.61,124.96 583.74,119.93 583.87,83.64 584,81.31 584.13,89 584.26,100.35 584.39,89.09 584.52,120.93 584.65,137.3 584.78,133.68 584.91,98.48 585.04,106.03 585.17,89.37 585.3,89.35 585.43,126.83 585.56,80.86 585.69,123.92 585.82,87.32 585.95,107.03 586.08,128.37 586.21,128.88 586.34,89.33 586.47,81.83 586.6,88.93 586.73,125.26 586.86,95.9 586.99,89.29 587.12,121.26 587.25,131.13 587.38,84.81 587.51,86.46 587.64,117.52 587.77,145.02 587.9,88.7 588.03,125.5 588.16,124.02 588.29,84.26 588.42,80.77 588.55,88.71 588.68,88.67 588.81,120.95 588.94,85.95 589.07,119.7 589.2,119.57 589.33,88.17 589.46,80.92 589.59,85.1 589.72,123.37 589.85,120.72 589.98,89.48 590.11,90.36 590.24,83.84 590.37,125.58 590.5,89.29 590.63,119.77 590.76,83.36 590.89,79.2 591.02,86.68 591.15,125.28 591.28,119.53 591.41,135.27 591.54,86.46 591.67,123.12 591.8,128.91 591.93,140.43 592.06,145.94 592.19,120.98 592.32,89.47 592.45,89.39 592.58,131.2 592.71,122.7 592.84,120.86 592.97,89.98 593.1,86.12 593.23,62.5 593.36,122.48 593.49,88.79 593.62,121.13 593.75,86.04" fill="none" stroke="#ff0000" stroke-width="0.55" stroke-opacity="0.9"/>
<path d="M364.50 180.40v-2.5M364.50 17.90v2.5M410.90 180.40v-2.5M410.90 17.90v2.5M457.31 180.40v-2.5M457.31 17.90v2.5M503.71 180.40v-2.5M503.71 17.90v2.5M550.12 180.40v-2.5M550.12 17.90v2.5M364.50 180.40h2.5M594.20 180.40h-2.5M364.50 126.23h2.5M594.20 126.23h-2.5M364.50 72.07h2.5M594.20 72.07h-2.5M364.50 17.90h2.5M594.20 17.90h-2.5" stroke="#444" stroke-width="0.8" fill="none"/>
<text x="364.50" y="197.90" font-size="14.5" text-anchor="middle">0</text>
<text x="410.90" y="197.90" font-size="14.5" text-anchor="middle">1</text>
<text x="457.31" y="197.90" font-size="14.5" text-anchor="middle">2</text>
<text x="503.71" y="197.90" font-size="14.5" text-anchor="middle">3</text>
<text x="550.12" y="197.90" font-size="14.5" text-anchor="middle">4</text>
<text x="360.00" y="185.40" font-size="14.5" text-anchor="end">-2</text>
<text x="360.00" y="131.23" font-size="14.5" text-anchor="end">0</text>
<text x="360.00" y="77.07" font-size="14.5" text-anchor="end">2</text>
<text x="360.00" y="22.90" font-size="14.5" text-anchor="end">4</text>
<text x="479.35" y="217.40" font-size="15.2" text-anchor="middle">t,s</text>
<text transform="translate(341.80 99.15) rotate(-90)" font-size="15.2" text-anchor="middle">Tem,Nm</text>
<text x="474.30" y="245.30" font-size="16.5" text-anchor="middle">b)</text>
<text x="365" y="17" font-size="18">&#215;</text><text x="375.5" y="14.9" font-size="14.5">10</text><text x="391" y="6.2" font-size="10.5">4</text>
<path d="M99.56 276.00V448.30M143.62 276.00V448.30M187.68 276.00V448.30M231.74 276.00V448.30M55.50 413.84H273.60M55.50 379.38H273.60M55.50 344.92H273.60M55.50 310.46H273.60" stroke="#ededed" stroke-width="1" fill="none"/>
<rect x="55.50" y="276.00" width="218.10" height="172.30" fill="none" stroke="#888888" stroke-width="1"/>
<polyline points="55.3,344.8 55.5,413.6 55.6,372 56.2,364.5 57.4,360.9 59,358.6 59.7,362.4 61,356 63,342 64.6,335 65.9,332.8 65.9,333.06 65.96,332.99 66.02,332.94 66.08,332.89 66.14,332.87 66.2,332.86 66.26,332.87 66.32,332.89 66.38,332.93 66.44,332.98 66.5,333.05 66.56,333.14 66.62,333.25 66.68,333.37 66.74,333.51 66.8,333.67 66.86,333.84 66.92,334.03 66.98,334.24 67.04,334.47 67.1,334.71 67.16,334.98 67.22,335.25 67.28,335.55 67.34,335.86 67.4,336.19 67.46,336.53 67.52,336.89 67.58,337.26 67.64,337.65 67.69,338.05 67.75,338.47 67.81,338.9 67.87,339.34 67.93,339.8 67.99,340.26 68.05,340.74 68.11,341.23 68.17,341.72 68.23,342.22 68.29,342.73 68.35,343.25 68.41,343.78 68.47,344.3 68.53,344.83 68.59,345.37 68.65,345.9 68.71,346.44 68.77,346.97 68.83,347.51 68.89,348.04 68.95,348.56 69.01,349.09 69.07,349.6 69.13,350.11 69.19,350.61 69.25,351.09 69.31,351.57 69.37,352.04 69.43,352.49 69.49,352.92 69.55,353.34 69.61,353.74 69.67,354.13 69.73,354.49 69.79,354.83 69.85,355.16 69.91,355.45 69.97,355.73 70.03,355.98 70.09,356.2 70.15,356.4 70.21,356.57 70.27,356.71 70.33,356.82 70.39,356.91 70.45,356.96 70.51,356.98 70.57,356.97 70.63,356.93 70.69,356.86 70.75,356.75 70.81,356.62 70.87,356.45 70.93,356.25 70.99,356.01 71.05,355.75 71.11,355.45 71.17,355.13 71.23,354.77 71.28,354.39 71.34,353.97 71.4,353.53 71.46,353.06 71.52,352.57 71.58,352.05 71.64,351.51 71.7,350.95 71.76,350.36 71.82,349.76 71.88,349.14 71.94,348.51 72,347.86 72.06,347.2 72.12,346.53 72.18,345.85 72.24,345.17 72.3,344.49 72.36,343.8 72.42,343.11 72.48,342.43 72.54,341.76 72.6,341.09 72.66,340.43 72.72,339.79 72.78,339.16 72.84,338.55 72.9,337.96 72.96,337.39 73.02,336.84 73.08,336.32 73.14,335.83 73.2,335.38 73.26,334.95 73.32,334.56 73.38,334.21 73.44,333.89 73.5,333.61 73.56,333.38 73.62,333.19 73.68,333.04 73.74,332.93 73.8,332.87 73.86,332.86 73.92,332.89 73.98,332.98 74.04,333.1 74.1,333.28 74.16,333.5 74.22,333.77 74.28,334.08 74.34,334.44 74.4,334.85 74.46,335.29 74.52,335.78 74.58,336.31 74.64,336.87 74.7,337.47 74.76,338.1 74.81,338.77 74.87,339.46 74.93,340.18 74.99,340.92 75.05,341.68 75.11,342.46 75.17,343.25 75.23,344.05 75.29,344.86 75.35,345.67 75.41,346.48 75.47,347.28 75.53,348.08 75.59,348.86 75.65,349.63 75.71,350.37 75.77,351.1 75.83,351.8 75.89,352.46 75.95,353.1 76.01,353.69 76.07,354.25 76.13,354.76 76.19,355.22 76.25,355.64 76.31,356 76.37,356.31 76.43,356.56 76.49,356.75 76.55,356.89 76.61,356.97 76.67,356.98 76.73,356.93 76.79,356.82 76.85,356.65 76.91,356.41 76.97,356.11 77.03,355.76 77.09,355.34 77.15,354.87 77.21,354.34 77.27,353.76 77.33,353.13 77.39,352.46 77.45,351.74 77.51,350.98 77.57,350.18 77.63,349.36 77.69,348.5 77.75,347.63 77.81,346.73 77.87,345.82 77.93,344.91 77.99,343.99 78.05,343.08 78.11,342.17 78.17,341.28 78.23,340.41 78.29,339.56 78.34,338.74 78.4,337.96 78.46,337.21 78.52,336.52 78.58,335.87 78.64,335.27 78.7,334.73 78.76,334.26 78.82,333.84 78.88,333.5 78.94,333.23 79,333.03 79.06,332.91 79.12,332.86 79.18,332.89 79.24,333 79.3,333.18 79.36,333.44 79.42,333.78 79.48,334.19 79.54,334.68 79.6,335.23 79.66,335.85 79.72,336.53 79.78,337.27 79.84,338.06 79.9,338.9 79.96,339.79 80.02,340.71 80.08,341.66 80.14,342.64 80.2,343.64 80.26,344.65 80.32,345.66 80.38,346.67 80.44,347.67 80.5,348.65 80.56,349.61 80.62,350.54 80.68,351.43 80.74,352.27 80.8,353.06 80.86,353.79 80.92,354.46 80.98,355.06 81.04,355.59 81.1,356.03 81.16,356.4 81.22,356.68 81.28,356.87 81.34,356.97 81.4,356.97 81.46,356.89 81.52,356.71 81.58,356.44 81.64,356.08 81.7,355.63 81.76,355.09 81.82,354.47 81.88,353.78 81.93,353.01 81.99,352.18 82.05,351.28 82.11,350.34 82.17,349.34 82.23,348.31 82.29,347.25 82.35,346.16 82.41,345.07 82.47,343.97 82.53,342.87 82.59,341.79 82.65,340.74 82.71,339.71 82.77,338.73 82.83,337.8 82.89,336.93 82.95,336.13 83.01,335.4 83.07,334.75 83.13,334.19 83.19,333.72 83.25,333.35 83.31,333.08 83.37,332.92 83.43,332.86 83.49,332.91 83.55,333.07 83.61,333.33 83.67,333.71 83.73,334.18 83.79,334.75 83.85,335.42 83.91,336.18 83.97,337.02 84.03,337.94" fill="none" stroke="#ff0000" stroke-width="0.8"/>
<polyline points="84.03,337.94 84.09,338.92 84.15,339.96 84.21,341.05 84.27,342.18 84.33,343.34 84.39,344.51 84.45,345.7 84.51,346.87 84.57,348.03 84.63,349.16 84.69,350.26 84.75,351.3 84.81,352.28 84.87,353.19 84.93,354.03 84.99,354.77 85.05,355.41 85.11,355.96 85.17,356.39 85.23,356.71 85.29,356.9 85.35,356.98 85.41,356.93 85.46,356.76 85.52,356.47 85.58,356.06 85.64,355.53 85.7,354.89 85.76,354.14 85.82,353.29 85.88,352.36 85.94,351.34 86,350.25 86.06,349.11 86.12,347.92 86.18,346.69 86.24,345.44 86.3,344.18 86.36,342.93 86.42,341.7 86.48,340.5 86.54,339.35 86.6,338.25 86.66,337.23 86.72,336.29 86.78,335.45 86.84,334.71 86.9,334.09 86.96,333.59 87.02,333.21 87.08,332.97 87.14,332.86 87.2,332.9 87.26,333.07 87.32,333.38 87.38,333.82 87.44,334.4 87.5,335.09 87.56,335.91 87.62,336.83 87.68,337.85 87.74,338.96 87.8,340.14 87.86,341.38 87.92,342.66 87.98,343.98 88.04,345.31 88.1,346.63 88.16,347.94 88.22,349.21 88.28,350.43 88.34,351.59 88.4,352.66 88.46,353.65 88.52,354.52 88.58,355.28 88.64,355.9 88.7,356.39 88.76,356.74 88.82,356.93 88.88,356.98 88.94,356.87 88.99,356.6 89.05,356.19 89.11,355.62 89.17,354.92 89.23,354.09 89.29,353.14 89.35,352.07 89.41,350.91 89.47,349.67 89.53,348.36 89.59,347.01 89.65,345.63 89.71,344.23 89.77,342.84 89.83,341.48 89.89,340.16 89.95,338.9 90.01,337.72 90.07,336.64 90.13,335.67 90.19,334.83 90.25,334.12 90.31,333.57 90.37,333.17 90.43,332.93 90.49,332.86 90.55,332.96 90.61,333.23 90.67,333.66 90.73,334.26 90.79,335.01 90.85,335.9 90.91,336.92 90.97,338.06 91.03,339.3 91.09,340.63 91.15,342.01 91.21,343.45 91.27,344.9 91.33,346.36 91.39,347.81 91.45,349.21 91.51,350.55 91.57,351.8 91.63,352.96 91.69,354 91.75,354.9 91.81,355.66 91.87,356.25 91.93,356.67 91.99,356.92 92.05,356.98 92.11,356.85 92.17,356.55 92.23,356.06 92.29,355.4 92.35,354.58 92.41,353.6 92.47,352.49 92.53,351.25 92.58,349.92 92.64,348.5 92.7,347.02 92.76,345.51 92.82,343.99 92.88,342.48 92.94,341 93,339.59 93.06,338.26 93.12,337.04 93.18,335.94 93.24,334.99 93.3,334.2 93.36,333.58 93.42,333.15 93.48,332.91 93.54,332.87 93.6,333.03 93.66,333.39 93.72,333.94 93.78,334.68 93.84,335.59 93.9,336.66 93.96,337.87 94.02,339.2 94.08,340.63 94.14,342.14 94.2,343.7 94.26,345.28 94.32,346.85 94.38,348.4 94.44,349.89 94.5,351.29 94.56,352.59 94.62,353.75 94.68,354.76 94.74,355.6 94.8,356.25 94.86,356.7 94.92,356.94 94.98,356.97 95.04,356.78 95.1,356.38 95.16,355.77 95.22,354.97 95.28,353.98 95.34,352.83 95.4,351.53 95.46,350.1 95.52,348.59 95.58,347 95.64,345.37 95.7,343.73 95.76,342.11 95.82,340.54 95.88,339.05 95.94,337.67 96,336.42 96.06,335.33 96.11,334.41 96.17,333.7 96.23,333.2 96.29,332.92 96.35,332.87 96.41,333.05 96.47,333.46 96.53,334.09 96.59,334.93 96.65,335.96 96.71,337.17 96.77,338.53 96.83,340.02 96.89,341.61 96.95,343.27 97.01,344.96 97.07,346.65 97.13,348.31 97.19,349.9 97.25,351.4 97.31,352.77 97.37,353.99 97.43,355.02 97.49,355.85 97.55,356.47 97.61,356.84 97.67,356.98 97.73,356.87 97.79,356.52 97.85,355.92 97.91,355.1 97.97,354.07 98.03,352.85 98.09,351.46 98.15,349.94 98.21,348.3 98.27,346.6 98.33,344.85 98.39,343.11 98.45,341.4 98.51,339.76 98.57,338.23 98.63,336.84 98.69,335.62 98.75,334.6 98.81,333.8 98.87,333.24 98.93,332.92 98.99,332.87 99.05,333.08 99.11,333.54 99.17,334.26 99.23,335.21 99.29,336.37 99.35,337.72 99.41,339.24 99.47,340.88 99.53,342.61 99.59,344.4 99.65,346.2 99.7,347.97 99.76,349.68 99.82,351.28 99.88,352.75 99.94,354.03 100,355.12 100.06,355.97 100.12,356.57 100.18,356.91 100.24,356.97 100.3,356.76 100.36,356.27 100.42,355.52 100.48,354.53 100.54,353.31 100.6,351.89 100.66,350.31 100.72,348.6 100.78,346.8 100.84,344.96 100.9,343.11 100.96,341.3 101.02,339.58 101.08,337.98 101.14,336.54 101.2,335.31 101.26,334.3 101.32,333.54 101.38,333.06 101.44,332.86 101.5,332.96 101.56,333.34 101.62,334.01 101.68,334.95 101.74,336.13 101.8,337.52 101.86,339.1 101.92,340.83 101.98,342.66 102.04,344.55 102.1,346.45 102.16,348.31 102.22,350.09 102.28,351.74 102.34,353.23 102.4,354.51 102.46,355.55 102.52,356.32 102.58,356.8 102.64,356.98 102.7,356.85 102.76,356.42 102.82,355.7 102.88,354.69 102.94,353.44 103,351.96 103.06,350.3 103.12,348.5 103.18,346.6 103.23,344.65 103.29,342.71 103.35,340.83 103.41,339.05 103.47,337.42 103.53,335.99 103.59,334.79 103.65,333.86 103.71,333.23 103.77,332.9 103.83,332.9 103.89,333.21 103.95,333.84 104.01,334.78 104.07,335.98 104.13,337.43 104.19,339.08 104.25,340.9 104.31,342.82 104.37,344.81 104.43,346.8 104.49,348.74 104.55,350.58 104.61,352.27 104.67,353.75 104.73,354.99 104.79,355.95 104.85,356.61 104.91,356.94 104.97,356.94 105.03,356.59 105.09,355.92 105.15,354.94 105.21,353.68 105.27,352.16 105.33,350.44 105.39,348.55 105.45,346.57 105.51,344.53 105.57,342.5 105.63,340.54 105.69,338.7 105.75,337.04 105.81,335.61 105.87,334.44 105.93,333.58 105.99,333.05 106.05,332.86 106.11,333.03 106.17,333.54 106.23,334.39 106.29,335.56 106.35,337 106.41,338.67 106.47,340.54 106.53,342.54 106.59,344.61 106.65,346.69 106.71,348.72 106.76,350.64 106.82,352.39 106.88,353.92 106.94,355.18 107,356.12 107.06,356.73 107.12,356.98 107.18,356.86 107.24,356.37 107.3,355.53 107.36,354.37 107.42,352.91 107.48,351.2 107.54,349.3 107.6,347.26 107.66,345.14 107.72,343.02 107.78,340.95 107.84,339 107.9,337.24 107.96,335.72 108.02,334.48 108.08,333.58 108.14,333.03 108.2,332.86 108.26,333.07 108.32,333.66 108.38,334.62 108.44,335.9 108.5,337.47 108.56,339.29 108.62,341.29 108.68,343.41 108.74,345.58 108.8,347.73 108.86,349.79 108.92,351.7 108.98,353.38 109.04,354.8 109.1,355.88 109.16,356.61 109.22,356.95 109.28,356.9 109.34,356.45 109.4,355.61 109.46,354.42 109.52,352.91 109.58,351.13 109.64,349.14 109.7,347.01 109.76,344.81 109.82,342.6 109.88,340.47 109.94,338.49 110,336.73 110.06,335.24 110.12,334.08 110.18,333.29 110.24,332.9 110.3,332.92 110.35,333.35 110.41,334.19 110.47,335.39 110.53,336.92 110.59,338.74 110.65,340.77 110.71,342.95 110.77,345.2 110.83,347.44 110.89,349.59 110.95,351.59 111.01,353.35 111.07,354.81 111.13,355.93 111.19,356.66 111.25,356.97 111.31,356.85 111.37,356.31 111.43,355.36 111.49,354.03 111.55,352.38 111.61,350.45 111.67,348.33 111.73,346.07 111.79,343.78 111.85,341.52 111.91,339.38 111.97,337.45 112.03,335.78 112.09,334.45 112.15,333.5 112.21,332.97 112.27,332.88 112.33,333.23 112.39,334.02 112.45,335.21 112.51,336.76 112.57,338.62 112.63,340.71 112.69,342.97 112.75,345.3 112.81,347.62 112.87,349.84 112.93,351.87 112.99,353.65 113.05,355.09 113.11,356.16 113.17,356.79 113.23,356.98 113.29,356.7 113.35,355.98 113.41,354.83 113.47,353.3 113.53,351.44 113.59,349.33 113.65,347.05 113.71,344.68 113.77,342.32 113.83,340.06 113.88,337.99 113.94,336.18 114,334.72 114.06,333.65 114.12,333.02 114.18,332.87 114.24,333.18 114.3,333.96 114.36,335.18 114.42,336.79 114.48,338.71 114.54,340.89 114.6,343.23 114.66,345.64 114.72,348.03 114.78,350.29 114.84,352.34 114.9,354.09 114.96,355.47 115.02,356.43 115.08,356.92 115.14,356.92 115.2,356.44 115.26,355.48 115.32,354.09 115.38,352.32 115.44,350.25 115.5,347.96 115.56,345.54 115.62,343.09 115.68,340.71 115.74,338.51 115.8,336.57 115.86,334.98 115.92,333.8 115.98,333.08 116.04,332.86 116.1,333.14 116.16,333.92 116.22,335.17 116.28,336.82 116.34,338.82 116.4,341.08 116.46,343.51 116.52,346 116.58,348.44 116.64,350.74 116.7,352.79 116.76,354.5 116.82,355.81 116.88,356.64 116.94,356.98 117,356.79 117.06,356.08 117.12,354.9 117.18,353.27 117.24,351.29 117.3,349.02 117.36,346.57 117.41,344.05 117.47,341.56 117.53,339.22 117.59,337.12 117.65,335.37 117.71,334.04 117.77,333.19 117.83,332.86 117.89,333.07 117.95,333.8 118.01,335.03 118.07,336.71 118.13,338.75 118.19,341.08 118.25,343.57 118.31,346.14 118.37,348.64 118.43,350.99 118.49,353.06 118.55,354.76 118.61,356.01 118.67,356.77 118.73,356.98 118.79,356.64 118.85,355.76 118.91,354.38 118.97,352.57 119.03,350.4 119.09,347.98 119.15,345.41 119.21,342.82 119.27,340.32 119.33,338.04 119.39,336.07 119.45,334.52 119.51,333.45 119.57,332.92 119.63,332.95 119.69,333.54 119.75,334.67 119.81,336.29 119.87,338.32 119.93,340.66 119.99,343.2 120.05,345.83 120.11,348.42 120.17,350.85 120.23,352.99 120.29,354.75 120.35,356.04 120.41,356.79 120.47,356.97 120.53,356.57 120.59,355.61 120.65,354.12 120.71,352.19 120.77,349.91 120.83,347.37 120.89,344.72 120.95,342.07 121,339.56 121.06,337.32 121.12,335.44 121.18,334.03 121.24,333.15 121.3,332.86 121.36,333.16 121.42,334.05 121.48,335.48 121.54,337.38 121.6,339.66 121.66,342.2 121.72,344.88 121.78,347.57 121.84,350.12 121.9,352.42 121.96,354.34 122.02,355.78 122.08,356.68 122.14,356.98 122.2,356.67 122.26,355.76 122.32,354.3 122.38,352.35 122.44,350.03 122.5,347.44 122.56,344.71 122.62,342 122.68,339.44 122.74,337.15 122.8,335.27 122.86,333.88 122.92,333.07 122.98,332.87 123.04,333.3 123.1,334.33 123.16,335.92 123.22,337.99 123.28,340.41 123.34,343.08 123.4,345.85 123.46,348.57 123.52,351.09 123.58,353.3 123.64,355.06 123.7,356.29 123.76,356.91 123.82,356.89 123.88,356.24 123.94,354.97 124,353.17 124.06,350.93 124.12,348.36 124.18,345.6 124.24,342.8 124.3,340.12 124.36,337.69 124.42,335.65 124.48,334.12 124.53,333.17 124.59,332.86 124.65,333.21 124.71,334.2 124.77,335.78 124.83,337.86 124.89,340.33 124.95,343.05 125.01,345.89 125.07,348.67 125.13,351.24 125.19,353.47 125.25,355.22 125.31,356.41 125.37,356.95 125.43,356.82 125.49,356.03 125.55,354.61 125.61,352.65 125.67,350.25 125.73,347.55 125.79,344.7 125.85,341.86 125.91,339.19 125.97,336.84 126.03,334.95 126.09,333.63 126.15,332.95 126.21,332.95 126.27,333.63 126.33,334.96 126.39,336.86 126.45,339.23 126.51,341.93 126.57,344.8 126.63,347.68 126.69,350.41 126.75,352.82 126.81,354.77 126.87,356.15 126.93,356.88 126.99,356.91 127.05,356.24 127.11,354.91 127.17,352.99 127.23,350.59 127.29,347.86 127.35,344.96 127.41,342.05 127.47,339.31 127.53,336.89 127.59,334.96 127.65,333.61 127.71,332.93 127.77,332.97 127.83,333.72 127.89,335.14 127.95,337.15 128.01,339.63 128.07,342.42 128.12,345.37 128.18,348.3 128.24,351.02 128.3,353.37 128.36,355.22 128.42,356.44 128.48,356.96 128.54,356.75 128.6,355.82 128.66,354.22 128.72,352.05 128.78,349.45 128.84,346.56 128.9,343.57 128.96,340.66 129.02,338.01 129.08,335.78 129.14,334.12 129.2,333.13 129.26,332.87 129.32,333.36 129.38,334.56 129.44,336.42 129.5,338.81 129.56,341.58 129.62,344.56 129.68,347.57 129.74,350.42 129.8,352.92 129.86,354.91 129.92,356.28 129.98,356.93 130.04,356.82 130.1,355.95 130.16,354.39 130.22,352.21 130.28,349.57 130.34,346.63 130.4,343.58 130.46,340.61 130.52,337.92 130.58,335.67 130.64,334.02 130.7,333.07 130.76,332.89 130.82,333.48 130.88,334.82 130.94,336.81 131,339.33 131.06,342.22 131.12,345.28 131.18,348.33 131.24,351.15 131.3,353.57 131.36,355.42 131.42,356.59 131.48,356.98 131.54,356.58 131.6,355.41 131.65,353.55 131.71,351.11 131.77,348.26 131.83,345.18 131.89,342.09 131.95,339.18 132.01,336.65 132.07,334.68 132.13,333.39 132.19,332.87 132.25,333.16 132.31,334.24 132.37,336.04 132.43,338.45 132.49,341.29 132.55,344.38 132.61,347.51 132.67,350.47 132.73,353.05 132.79,355.08 132.85,356.42 132.91,356.97 132.97,356.7 133.03,355.62 133.09,353.8 133.15,351.38 133.21,348.5 133.27,345.38 133.33,342.22 133.39,339.25 133.45,336.67 133.51,334.66 133.57,333.36 133.63,332.86 133.69,333.21 133.75,334.37 133.81,336.27 133.87,338.78 133.93,341.72 133.99,344.89 134.05,348.06 134.11,351.01 134.17,353.54 134.23,355.46 134.29,356.63 134.35,356.98 134.41,356.47 134.47,355.13 134.53,353.07 134.59,350.43 134.65,347.39 134.71,344.17 134.77,341 134.83,338.12 134.89,335.71 134.95,333.97 135.01,333.02 135.07,332.93 135.13,333.7 135.18,335.28 135.24,337.57 135.3,340.39 135.36,343.54 135.42,346.8 135.48,349.92 135.54,352.67 135.6,354.87 135.66,356.33 135.72,356.96 135.78,356.71 135.84,355.58 135.9,353.67 135.96,351.12 136.02,348.1 136.08,344.85 136.14,341.6 136.2,338.59 136.26,336.05 136.32,334.17 136.38,333.09 136.44,332.9 136.5,333.6 136.56,335.15 136.62,337.43 136.68,340.28 136.74,343.48 136.8,346.79 136.86,349.97 136.92,352.76 136.98,354.96 137.04,356.4 137.1,356.97 137.16,356.63 137.22,355.39 137.28,353.36 137.34,350.68 137.4,347.56 137.46,344.23 137.52,340.95 137.58,337.98 137.64,335.54 137.7,333.82 137.76,332.95 137.82,333.01 137.88,333.99 137.94,335.81 138,338.35 138.06,341.39 138.12,344.72 138.18,348.06 138.24,351.16 138.3,353.77 138.36,355.69 138.42,356.77 138.48,356.93 138.54,356.13 138.6,354.46 138.66,352.03 138.72,349.04 138.77,345.72 138.83,342.34 138.89,339.15 138.95,336.43 139.01,334.37 139.07,333.16 139.13,332.88 139.19,333.56 139.25,335.15 139.31,337.53 139.37,340.49 139.43,343.82 139.49,347.23 139.55,350.47 139.61,353.25 139.67,355.37 139.73,356.64 139.79,356.97 139.85,356.32 139.91,354.74 139.97,352.36 140.03,349.38 140.09,346.03 140.15,342.59 140.21,339.33 140.27,336.53 140.33,334.42 140.39,333.17 140.45,332.88 140.51,333.59 140.57,335.22 140.63,337.66 140.69,340.71 140.75,344.1 140.81,347.56 140.87,350.81 140.93,353.57 140.99,355.61 141.05,356.76 141.11,356.92 141.17,356.08 141.23,354.31 141.29,351.74 141.35,348.61 141.41,345.16 141.47,341.68 141.53,338.48 141.59,335.82 141.65,333.93 141.71,332.96 141.77,333.01 141.83,334.07 141.89,336.05 141.95,338.79 142.01,342.06 142.07,345.56 142.13,349.02 142.19,352.13 142.25,354.62 142.3,356.28 142.36,356.97 142.42,356.62 142.48,355.26 142.54,353.01 142.6,350.05 142.66,346.66 142.72,343.11 142.78,339.71 142.84,336.76 142.9,334.53 142.96,333.19 143.02,332.88 143.08,333.62 143.14,335.35 143.2,337.92 143.26,341.1 143.32,344.62 143.38,348.17 143.44,351.44 143.5,354.13 143.56,356.01 143.62,356.91" fill="none" stroke="#ff0000" stroke-width="0.55"/>
<polyline points="55.3,344.8 55.5,322.3 56.5,330 58.2,337 59.7,344.8 62,354.8 63.6,357.8 65,354 66.5,346 66.5,348.98 66.56,348.56 66.62,348.12 66.68,347.69 66.74,347.24 66.8,346.79 66.86,346.34 66.92,345.88 66.97,345.41 67.03,344.95 67.09,344.48 67.15,344.01 67.21,343.54 67.27,343.07 67.33,342.59 67.39,342.12 67.45,341.66 67.51,341.19 67.57,340.73 67.63,340.27 67.69,339.82 67.75,339.38 67.81,338.94 67.87,338.51 67.92,338.09 67.98,337.68 68.04,337.28 68.1,336.89 68.16,336.52 68.22,336.16 68.28,335.81 68.34,335.48 68.4,335.16 68.46,334.86 68.52,334.58 68.58,334.32 68.64,334.08 68.7,333.85 68.76,333.65 68.82,333.47 68.87,333.31 68.93,333.18 68.99,333.06 69.05,332.98 69.11,332.91 69.17,332.87 69.23,332.86 69.29,332.87 69.35,332.91 69.41,332.97 69.47,333.06 69.53,333.18 69.59,333.33 69.65,333.5 69.71,333.69 69.77,333.92 69.82,334.17 69.88,334.44 69.94,334.75 70,335.07 70.06,335.43 70.12,335.8 70.18,336.2 70.24,336.62 70.3,337.07 70.36,337.54 70.42,338.02 70.48,338.53 70.54,339.05 70.6,339.59 70.66,340.15 70.72,340.72 70.77,341.31 70.83,341.9 70.89,342.51 70.95,343.13 71.01,343.75 71.07,344.38 71.13,345.01 71.19,345.65 71.25,346.28 71.31,346.91 71.37,347.54 71.43,348.17 71.49,348.79 71.55,349.4 71.61,350 71.67,350.58 71.72,351.15 71.78,351.71 71.84,352.24 71.9,352.76 71.96,353.25 72.02,353.73 72.08,354.17 72.14,354.59 72.2,354.98 72.26,355.34 72.32,355.66 72.38,355.96 72.44,356.21 72.5,356.44 72.56,356.62 72.62,356.77 72.67,356.88 72.73,356.95 72.79,356.98 72.85,356.97 72.91,356.92 72.97,356.82 73.03,356.69 73.09,356.51 73.15,356.29 73.21,356.04 73.27,355.74 73.33,355.4 73.39,355.02 73.45,354.61 73.51,354.15 73.56,353.67 73.62,353.14 73.68,352.59 73.74,352.01 73.8,351.39 73.86,350.76 73.92,350.09 73.98,349.41 74.04,348.7 74.1,347.98 74.16,347.24 74.22,346.49 74.28,345.74 74.34,344.98 74.4,344.21 74.46,343.45 74.51,342.69 74.57,341.93 74.63,341.19 74.69,340.46 74.75,339.74 74.81,339.05 74.87,338.38 74.93,337.73 74.99,337.11 75.05,336.53 75.11,335.97 75.17,335.46 75.23,334.99 75.29,334.55 75.35,334.17 75.41,333.83 75.46,333.53 75.52,333.29 75.58,333.1 75.64,332.97 75.7,332.89 75.76,332.86 75.82,332.89 75.88,332.98 75.94,333.12 76,333.32 76.06,333.57 76.12,333.88 76.18,334.24 76.24,334.66 76.3,335.13 76.36,335.65 76.41,336.21 76.47,336.82 76.53,337.47 76.59,338.16 76.65,338.88 76.71,339.64 76.77,340.43 76.83,341.24 76.89,342.08 76.95,342.93 77.01,343.79 77.07,344.66 77.13,345.54 77.19,346.41 77.25,347.28 77.31,348.14 77.36,348.99 77.42,349.81 77.48,350.61 77.54,351.38 77.6,352.12 77.66,352.82 77.72,353.47 77.78,354.09 77.84,354.65 77.9,355.16 77.96,355.61 78.02,356 78.08,356.33 78.14,356.59 78.2,356.79 78.26,356.92 78.31,356.98 78.37,356.96 78.43,356.88 78.49,356.73 78.55,356.5 78.61,356.2 78.67,355.84 78.73,355.41 78.79,354.91 78.85,354.35 78.91,353.73 78.97,353.05 79.03,352.32 79.09,351.55 79.15,350.73 79.21,349.87 79.26,348.97 79.32,348.05 79.38,347.11 79.44,346.15 79.5,345.18 79.56,344.21 79.62,343.23 79.68,342.27 79.74,341.32 79.8,340.4 79.86,339.5 79.92,338.63 79.98,337.81 80.04,337.03 80.1,336.31 80.16,335.64 80.21,335.03 80.27,334.49 80.33,334.02 80.39,333.63 80.45,333.31 80.51,333.08 80.57,332.93 80.63,332.86 80.69,332.88 80.75,332.99 80.81,333.18 80.87,333.46 80.93,333.82 80.99,334.27 81.05,334.79 81.1,335.39 81.16,336.06 81.22,336.8 81.28,337.6 81.34,338.46 81.4,339.37 81.46,340.32 81.52,341.31 81.58,342.33 81.64,343.38 81.7,344.43 81.76,345.5 81.82,346.56 81.88,347.61 81.94,348.64 82,349.65 82.05,350.62 82.11,351.54 82.17,352.42 82.23,353.24 82.29,353.99 82.35,354.67 82.41,355.27 82.47,355.79 82.53,356.22 82.59,356.55 82.65,356.79 82.71,356.94 82.77,356.98 82.83,356.92 82.89,356.76 82.95,356.5 83,356.14 83.06,355.68 83.12,355.13 83.18,354.49 83.24,353.77 83.3,352.97 83.36,352.09 83.42,351.15 83.48,350.16 83.54,349.11 83.6,348.03 83.66,346.91 83.72,345.78 83.78,344.63 83.84,343.49 83.9,342.35 83.95,341.24 84.01,340.16" fill="none" stroke="#0000ff" stroke-width="0.8"/>
<polyline points="84.01,340.16 84.07,339.12 84.13,338.13 84.19,337.2 84.25,336.35 84.31,335.57 84.37,334.87 84.43,334.27 84.49,333.77 84.55,333.38 84.61,333.09 84.67,332.92 84.73,332.86 84.79,332.92 84.85,333.09 84.9,333.38 84.96,333.79 85.02,334.3 85.08,334.92 85.14,335.64 85.2,336.45 85.26,337.35 85.32,338.33 85.38,339.37 85.44,340.48 85.5,341.63 85.56,342.82 85.62,344.03 85.68,345.25 85.74,346.47 85.8,347.68 85.85,348.86 85.91,350 85.97,351.09 86.03,352.12 86.09,353.07 86.15,353.94 86.21,354.72 86.27,355.39 86.33,355.96 86.39,356.4 86.45,356.72 86.51,356.92 86.57,356.98 86.63,356.91 86.69,356.72 86.75,356.39 86.8,355.93 86.86,355.35 86.92,354.66 86.98,353.85 87.04,352.94 87.1,351.94 87.16,350.86 87.22,349.71 87.28,348.51 87.34,347.26 87.4,345.98 87.46,344.68 87.52,343.39 87.58,342.11 87.64,340.87 87.69,339.66 87.75,338.52 87.81,337.45 87.87,336.47 87.93,335.58 87.99,334.81 88.05,334.15 88.11,333.62 88.17,333.23 88.23,332.97 88.29,332.86 88.35,332.9 88.41,333.08 88.47,333.41 88.53,333.88 88.59,334.49 88.64,335.23 88.7,336.09 88.76,337.06 88.82,338.13 88.88,339.29 88.94,340.52 89,341.81 89.06,343.14 89.12,344.5 89.18,345.86 89.24,347.22 89.3,348.54 89.36,349.83 89.42,351.05 89.48,352.19 89.54,353.24 89.59,354.18 89.65,355.01 89.71,355.7 89.77,356.25 89.83,356.65 89.89,356.9 89.95,356.98 90.01,356.9 90.07,356.67 90.13,356.27 90.19,355.72 90.25,355.02 90.31,354.18 90.37,353.21 90.43,352.13 90.49,350.95 90.54,349.68 90.6,348.34 90.66,346.96 90.72,345.54 90.78,344.11 90.84,342.69 90.9,341.3 90.96,339.96 91.02,338.68 91.08,337.5 91.14,336.41 91.2,335.45 91.26,334.63 91.32,333.95 91.38,333.42 91.44,333.07 91.49,332.88 91.55,332.88 91.61,333.05 91.67,333.39 91.73,333.91 91.79,334.59 91.85,335.42 91.91,336.4 91.97,337.51 92.03,338.73 92.09,340.05 92.15,341.44 92.21,342.89 92.27,344.37 92.33,345.86 92.39,347.34 92.44,348.78 92.5,350.17 92.56,351.48 92.62,352.69 92.68,353.77 92.74,354.73 92.8,355.53 92.86,356.16 92.92,356.62 92.98,356.9 93.04,356.98 93.1,356.87 93.16,356.57 93.22,356.09 93.28,355.42 93.34,354.59 93.39,353.59 93.45,352.46 93.51,351.2 93.57,349.83 93.63,348.38 93.69,346.88 93.75,345.33 93.81,343.78 93.87,342.25 93.93,340.76 93.99,339.33 94.05,338 94.11,336.78 94.17,335.69 94.23,334.76 94.29,334 94.34,333.43 94.4,333.05 94.46,332.87 94.52,332.9 94.58,333.14 94.64,333.58 94.7,334.21 94.76,335.04 94.82,336.03 94.88,337.19 94.94,338.48 95,339.88 95.06,341.38 95.12,342.94 95.18,344.54 95.23,346.15 95.29,347.74 95.35,349.28 95.41,350.74 95.47,352.1 95.53,353.34 95.59,354.42 95.65,355.34 95.71,356.06 95.77,356.58 95.83,356.89 95.89,356.98 95.95,356.85 96.01,356.49 96.07,355.93 96.13,355.15 96.18,354.19 96.24,353.05 96.3,351.75 96.36,350.33 96.42,348.8 96.48,347.19 96.54,345.54 96.6,343.88 96.66,342.23 96.72,340.63 96.78,339.12 96.84,337.71 96.9,336.44 96.96,335.33 97.02,334.41 97.08,333.69 97.13,333.18 97.19,332.91 97.25,332.87 97.31,333.07 97.37,333.51 97.43,334.17 97.49,335.04 97.55,336.12 97.61,337.37 97.67,338.77 97.73,340.3 97.79,341.92 97.85,343.61 97.91,345.33 97.97,347.04 98.03,348.71 98.08,350.3 98.14,351.79 98.2,353.13 98.26,354.31 98.32,355.3 98.38,356.08 98.44,356.62 98.5,356.92 98.56,356.97 98.62,356.77 98.68,356.32 98.74,355.62 98.8,354.71 98.86,353.58 98.92,352.27 98.98,350.79 99.03,349.2 99.09,347.5 99.15,345.76 99.21,343.99 99.27,342.23 99.33,340.54 99.39,338.93 99.45,337.46 99.51,336.14 99.57,335.02 99.63,334.11 99.69,333.44 99.75,333.02 99.81,332.86 99.87,332.97 99.93,333.35 99.98,333.98 100.04,334.86 100.1,335.97 100.16,337.27 100.22,338.76 100.28,340.38 100.34,342.11 100.4,343.9 100.46,345.73 100.52,347.53 100.58,349.28 100.64,350.93 100.7,352.44 100.76,353.78 100.82,354.92 100.88,355.83 100.93,356.48 100.99,356.87 101.05,356.98 101.11,356.8 101.17,356.35 101.23,355.63 101.29,354.65 101.35,353.44 101.41,352.03 101.47,350.44 101.53,348.73 101.59,346.92 101.65,345.05 101.71,343.19 101.77,341.36 101.82,339.62 101.88,338 101.94,336.55 102,335.3 102.06,334.28 102.12,333.53 102.18,333.05 102.24,332.86 102.3,332.97 102.36,333.38 102.42,334.07 102.48,335.03 102.54,336.25 102.6,337.67 102.66,339.29 102.72,341.04 102.77,342.9 102.83,344.81 102.89,346.72 102.95,348.59 103.01,350.37 103.07,352.02 103.13,353.48 103.19,354.73 103.25,355.72 103.31,356.44 103.37,356.86 103.43,356.98 103.49,356.78 103.55,356.27 103.61,355.47 103.67,354.39 103.72,353.06 103.78,351.52 103.84,349.8 103.9,347.95 103.96,346.01 104.02,344.05 104.08,342.1 104.14,340.23 104.2,338.49 104.26,336.91 104.32,335.54 104.38,334.43 104.44,333.6 104.5,333.07 104.56,332.86 104.62,332.98 104.67,333.43 104.73,334.19 104.79,335.24 104.85,336.56 104.91,338.12 104.97,339.86 105.03,341.74 105.09,343.72 105.15,345.73 105.21,347.72 105.27,349.63 105.33,351.41 105.39,353.02 105.45,354.4 105.51,355.51 105.57,356.33 105.62,356.82 105.68,356.98 105.74,356.8 105.8,356.27 105.86,355.42 105.92,354.27 105.98,352.85 106.04,351.2 106.1,349.37 106.16,347.41 106.22,345.37 106.28,343.32 106.34,341.31 106.4,339.4 106.46,337.65 106.52,336.12 106.57,334.84 106.63,333.86 106.69,333.2 106.75,332.88 106.81,332.93 106.87,333.33 106.93,334.08 106.99,335.15 107.05,336.51 107.11,338.13 107.17,339.95 107.23,341.93 107.29,344 107.35,346.1 107.41,348.16 107.47,350.13 107.52,351.94 107.58,353.54 107.64,354.88 107.7,355.92 107.76,356.61 107.82,356.95 107.88,356.92 107.94,356.51 108,355.74 108.06,354.64 108.12,353.23 108.18,351.57 108.24,349.69 108.3,347.66 108.36,345.54 108.41,343.4 108.47,341.3 108.53,339.32 108.59,337.51 108.65,335.94 108.71,334.65 108.77,333.69 108.83,333.08 108.89,332.86 108.95,333.02 109.01,333.57 109.07,334.48 109.13,335.74 109.19,337.29 109.25,339.09 109.31,341.09 109.36,343.21 109.42,345.39 109.48,347.55 109.54,349.64 109.6,351.57 109.66,353.28 109.72,354.72 109.78,355.83 109.84,356.58 109.9,356.95 109.96,356.91 110.02,356.47 110.08,355.65 110.14,354.46 110.2,352.95 110.26,351.17 110.31,349.17 110.37,347.03 110.43,344.82 110.49,342.6 110.55,340.46 110.61,338.48 110.67,336.71 110.73,335.22 110.79,334.06 110.85,333.28 110.91,332.9 110.97,332.93 111.03,333.38 111.09,334.23 111.15,335.46 111.21,337.01 111.26,338.85 111.32,340.9 111.38,343.09 111.44,345.35 111.5,347.6 111.56,349.76 111.62,351.74 111.68,353.49 111.74,354.93 111.8,356.02 111.86,356.71 111.92,356.98 111.98,356.81 112.04,356.22 112.1,355.22 112.16,353.85 112.21,352.15 112.27,350.19 112.33,348.04 112.39,345.76 112.45,343.46 112.51,341.21 112.57,339.09 112.63,337.18 112.69,335.56 112.75,334.28 112.81,333.39 112.87,332.92 112.93,332.91 112.99,333.34 113.05,334.2 113.11,335.46 113.16,337.08 113.22,338.99 113.28,341.13 113.34,343.41 113.4,345.76 113.46,348.07 113.52,350.27 113.58,352.26 113.64,353.98 113.7,355.35 113.76,356.33 113.82,356.87 113.88,356.96 113.94,356.58 114,355.75 114.06,354.5 114.11,352.89 114.17,350.96 114.23,348.79 114.29,346.47 114.35,344.09 114.41,341.74 114.47,339.51 114.53,337.49 114.59,335.77 114.65,334.39 114.71,333.44 114.77,332.93 114.83,332.91 114.89,333.35 114.95,334.26 115.01,335.59 115.06,337.3 115.12,339.31 115.18,341.55 115.24,343.93 115.3,346.35 115.36,348.72 115.42,350.93 115.48,352.9 115.54,354.55 115.6,355.81 115.66,356.63 115.72,356.97 115.78,356.82 115.84,356.18 115.9,355.08 115.95,353.56 116.01,351.68 116.07,349.52 116.13,347.17 116.19,344.72 116.25,342.28 116.31,339.95 116.37,337.82 116.43,335.99 116.49,334.52 116.55,333.5 116.61,332.95 116.67,332.9 116.73,333.36 116.79,334.31 116.85,335.71 116.9,337.51 116.96,339.62 117.02,341.95 117.08,344.42 117.14,346.91 117.2,349.31 117.26,351.54 117.32,353.47 117.38,355.04 117.44,356.18 117.5,356.83 117.56,356.97 117.62,356.58 117.68,355.68 117.74,354.32 117.8,352.54 117.85,350.43 117.91,348.07 117.97,345.58 118.03,343.05 118.09,340.6 118.15,338.34 118.21,336.37 118.27,334.78 118.33,333.64 118.39,332.99 118.45,332.88 118.51,333.31 118.57,334.25 118.63,335.68 118.69,337.52 118.75,339.69 118.8,342.11 118.86,344.65 118.92,347.21 118.98,349.66 119.04,351.9 119.1,353.83 119.16,355.35 119.22,356.4 119.28,356.92 119.34,356.9 119.4,356.32 119.46,355.22 119.52,353.64 119.58,351.66 119.64,349.36 119.7,346.86 119.75,344.26 119.81,341.7 119.87,339.28 119.93,337.12 119.99,335.32 120.05,333.97 120.11,333.14 120.17,332.86 120.23,333.15 120.29,333.99 120.35,335.35 120.41,337.17 120.47,339.35 120.53,341.8 120.59,344.41 120.65,347.04 120.7,349.57 120.76,351.88 120.82,353.86 120.88,355.41 120.94,356.45 121,356.95 121.06,356.86 121.12,356.19 121.18,354.97 121.24,353.27 121.3,351.16 121.36,348.74 121.42,346.13 121.48,343.46 121.54,340.86 121.6,338.46 121.65,336.37 121.71,334.71 121.77,333.54 121.83,332.94 121.89,332.93 121.95,333.52 122.01,334.67 122.07,336.34 122.13,338.43 122.19,340.85 122.25,343.48 122.31,346.19 122.37,348.83 122.43,351.27 122.49,353.4 122.54,355.1 122.6,356.29 122.66,356.9 122.72,356.91 122.78,356.3 122.84,355.11 122.9,353.4 122.96,351.26 123.02,348.79 123.08,346.11 123.14,343.38 123.2,340.72 123.26,338.28 123.32,336.17 123.38,334.52 123.44,333.41 123.49,332.89 123.55,333 123.61,333.73 123.67,335.05 123.73,336.89 123.79,339.14 123.85,341.71 123.91,344.44 123.97,347.2 124.03,349.85 124.09,352.23 124.15,354.23 124.21,355.74 124.27,356.67 124.33,356.98 124.39,356.65 124.44,355.68 124.5,354.15 124.56,352.11 124.62,349.69 124.68,347.01 124.74,344.21 124.8,341.45 124.86,338.88 124.92,336.63 124.98,334.83 125.04,333.57 125.1,332.93 125.16,332.95 125.22,333.62 125.28,334.91 125.34,336.75 125.39,339.04 125.45,341.65 125.51,344.45 125.57,347.27 125.63,349.97 125.69,352.39 125.75,354.4 125.81,355.88 125.87,356.76 125.93,356.97 125.99,356.51 126.05,355.4 126.11,353.71 126.17,351.52 126.23,348.96 126.29,346.16 126.34,343.3 126.4,340.52 126.46,337.99 126.52,335.86 126.58,334.23 126.64,333.21 126.7,332.86 126.76,333.19 126.82,334.2 126.88,335.82 126.94,337.97 127,340.51 127.06,343.31 127.12,346.21 127.18,349.03 127.24,351.62 127.29,353.82 127.35,355.51 127.41,356.58 127.47,356.98 127.53,356.67 127.59,355.68 127.65,354.05 127.71,351.89 127.77,349.32 127.83,346.49 127.89,343.56 127.95,340.71 128.01,338.11 128.07,335.91 128.13,334.24 128.19,333.2 128.24,332.86 128.3,333.24 128.36,334.31 128.42,336.02 128.48,338.27 128.54,340.91 128.6,343.8 128.66,346.76 128.72,349.6 128.78,352.17 128.84,354.31 128.9,355.87 128.96,356.77 129.02,356.96 129.08,356.41 129.14,355.16 129.19,353.29 129.25,350.9 129.31,348.14 129.37,345.19 129.43,342.22 129.49,339.41 129.55,336.93 129.61,334.95 129.67,333.58 129.73,332.92 129.79,333 129.85,333.81 129.91,335.32 129.97,337.43 130.03,340.01 130.08,342.9 130.14,345.91 130.2,348.87 130.26,351.58 130.32,353.87 130.38,355.6 130.44,356.66 130.5,356.98 130.56,356.53 130.62,355.35 130.68,353.51 130.74,351.11 130.8,348.33 130.86,345.32 130.92,342.28 130.98,339.41 131.03,336.89 131.09,334.89 131.15,333.53 131.21,332.9 131.27,333.04 131.33,333.96 131.39,335.58 131.45,337.81 131.51,340.5 131.57,343.48 131.63,346.56 131.69,349.53 131.75,352.21 131.81,354.41 131.87,355.99 131.93,356.84 131.98,356.91 132.04,356.2 132.1,354.74 132.16,352.63 132.22,350 132.28,347.04 132.34,343.94 132.4,340.9 132.46,338.13 132.52,335.8 132.58,334.08 132.64,333.09 132.7,332.88 132.76,333.49 132.82,334.86 132.88,336.91 132.93,339.5 132.99,342.45 133.05,345.58 133.11,348.66 133.17,351.5 133.23,353.88 133.29,355.67 133.35,356.72 133.41,356.96 133.47,356.39 133.53,355.03 133.59,352.98 133.65,350.37 133.71,347.39 133.77,344.23 133.83,341.12 133.88,338.27 133.94,335.88 134,334.11 134.06,333.09 134.12,332.89 134.18,333.52 134.24,334.95 134.3,337.08 134.36,339.75 134.42,342.79 134.48,345.98 134.54,349.1 134.6,351.92 134.66,354.26 134.72,355.94 134.78,356.84 134.83,356.9 134.89,356.12 134.95,354.54 135.01,352.27 135.07,349.48 135.13,346.37 135.19,343.15 135.25,340.05 135.31,337.3 135.37,335.09 135.43,333.59 135.49,332.9 135.55,333.07 135.61,334.1 135.67,335.91 135.73,338.37 135.78,341.31 135.84,344.51 135.9,347.74 135.96,350.77 136.02,353.38 136.08,355.37 136.14,356.6 136.2,356.98 136.26,356.47 136.32,355.12 136.38,353.02 136.44,350.32 136.5,347.22 136.56,343.95 136.62,340.75 136.67,337.85 136.73,335.48 136.79,333.8 136.85,332.95 136.91,332.99 136.97,333.92 137.03,335.67 137.09,338.11 137.15,341.06 137.21,344.31 137.27,347.6 137.33,350.69 137.39,353.35 137.45,355.38 137.51,356.62 137.57,356.98 137.62,356.42 137.68,354.99 137.74,352.8 137.8,350 137.86,346.82 137.92,343.49 137.98,340.26 138.04,337.39 138.1,335.1 138.16,333.56 138.22,332.88 138.28,333.14 138.34,334.3 138.4,336.28 138.46,338.93 138.52,342.04 138.57,345.38 138.63,348.69 138.69,351.7 138.75,354.19 138.81,355.96 138.87,356.87 138.93,356.85 138.99,355.89 139.05,354.08 139.11,351.54 139.17,348.48 139.23,345.14 139.29,341.78 139.35,338.67 139.41,336.04 139.47,334.12 139.52,333.05 139.58,332.92 139.64,333.75 139.7,335.46 139.76,337.93 139.82,340.96 139.88,344.31 139.94,347.7 140,350.88 140.06,353.58 140.12,355.59 140.18,356.74 140.24,356.94 140.3,356.17 140.36,354.49 140.42,352.03 140.47,349 140.53,345.63 140.59,342.21 140.65,339 140.71,336.27 140.77,334.25 140.83,333.09 140.89,332.91 140.95,333.7 141.01,335.42 141.07,337.92 141.13,341 141.19,344.4 141.25,347.84 141.31,351.05 141.37,353.75 141.42,355.73 141.48,356.81 141.54,356.9 141.6,355.99 141.66,354.17 141.72,351.57 141.78,348.41 141.84,344.96 141.9,341.51 141.96,338.33 142.02,335.71 142.08,333.86 142.14,332.95 142.2,333.04 142.26,334.13 142.32,336.14 142.37,338.89 142.43,342.15 142.49,345.65 142.55,349.09 142.61,352.18 142.67,354.65 142.73,356.3 142.79,356.97 142.85,356.61 142.91,355.25 142.97,353 143.03,350.06 143.09,346.67 143.15,343.13 143.21,339.74 143.26,336.8 143.32,334.55 143.38,333.21 143.44,332.88 143.5,333.59 143.56,335.29 143.62,337.83" fill="none" stroke="#0000ff" stroke-width="0.55"/>
<polyline points="55.3,344.8 55.5,288.1 55.5,372 55.6,325.4 56.3,330 58.1,333.4 59.8,324.5 61.6,327.4 63.6,337.8 65.2,348 65.2,344.22 65.26,344.62 65.32,345.02 65.38,345.43 65.44,345.84 65.5,346.25 65.56,346.66 65.62,347.07 65.68,347.48 65.74,347.89 65.8,348.3 65.86,348.7 65.92,349.11 65.98,349.51 66.05,349.91 66.11,350.3 66.17,350.69 66.23,351.07 66.29,351.45 66.35,351.82 66.41,352.18 66.47,352.54 66.53,352.89 66.59,353.22 66.65,353.55 66.71,353.86 66.77,354.17 66.83,354.46 66.89,354.74 66.95,355.01 67.01,355.26 67.07,355.5 67.13,355.72 67.19,355.92 67.25,356.11 67.31,356.28 67.37,356.44 67.43,356.57 67.49,356.69 67.55,356.79 67.61,356.87 67.68,356.93 67.74,356.96 67.8,356.98 67.86,356.98 67.92,356.95 67.98,356.9 68.04,356.83 68.1,356.74 68.16,356.62 68.22,356.49 68.28,356.33 68.34,356.14 68.4,355.94 68.46,355.71 68.52,355.46 68.58,355.19 68.64,354.9 68.7,354.58 68.76,354.24 68.82,353.89 68.88,353.51 68.94,353.11 69,352.7 69.06,352.26 69.12,351.81 69.18,351.34 69.24,350.85 69.31,350.35 69.37,349.84 69.43,349.31 69.49,348.77 69.55,348.21 69.61,347.65 69.67,347.08 69.73,346.5 69.79,345.92 69.85,345.33 69.91,344.74 69.97,344.14 70.03,343.55 70.09,342.95 70.15,342.36 70.21,341.77 70.27,341.19 70.33,340.61 70.39,340.05 70.45,339.49 70.51,338.95 70.57,338.41 70.63,337.9 70.69,337.4 70.75,336.92 70.81,336.46 70.87,336.02 70.94,335.6 71,335.21 71.06,334.85 71.12,334.51 71.18,334.2 71.24,333.92 71.3,333.67 71.36,333.45 71.42,333.26 71.48,333.11 71.54,332.99 71.6,332.91 71.66,332.87 71.72,332.86 71.78,332.89 71.84,332.96 71.9,333.06 71.96,333.2 72.02,333.38 72.08,333.6 72.14,333.85 72.2,334.14 72.26,334.47 72.32,334.83 72.38,335.23 72.44,335.66 72.5,336.13 72.57,336.62 72.63,337.15 72.69,337.7 72.75,338.28 72.81,338.89 72.87,339.52 72.93,340.17 72.99,340.84 73.05,341.53 73.11,342.23 73.17,342.94 73.23,343.66 73.29,344.39 73.35,345.13 73.41,345.87 73.47,346.6 73.53,347.33 73.59,348.06 73.65,348.77 73.71,349.47 73.77,350.16 73.83,350.83 73.89,351.48 73.95,352.1 74.01,352.7 74.07,353.27 74.13,353.81 74.2,354.31 74.26,354.77 74.32,355.2 74.38,355.58 74.44,355.93 74.5,356.22 74.56,356.47 74.62,356.67 74.68,356.83 74.74,356.93 74.8,356.98 74.86,356.97 74.92,356.92 74.98,356.81 75.04,356.65 75.1,356.43 75.16,356.16 75.22,355.84 75.28,355.47 75.34,355.05 75.4,354.59 75.46,354.07 75.52,353.52 75.58,352.92 75.64,352.28 75.7,351.6 75.76,350.89 75.83,350.15 75.89,349.38 75.95,348.59 76.01,347.77 76.07,346.95 76.13,346.1 76.19,345.25 76.25,344.4 76.31,343.55 76.37,342.7 76.43,341.85 76.49,341.03 76.55,340.22 76.61,339.43 76.67,338.67 76.73,337.94 76.79,337.24 76.85,336.59 76.91,335.97 76.97,335.4 77.03,334.88 77.09,334.42 77.15,334.01 77.21,333.66 77.27,333.37 77.33,333.14 77.39,332.98 77.46,332.89 77.52,332.86 77.58,332.9 77.64,333.01 77.7,333.19 77.76,333.44 77.82,333.75 77.88,334.13 77.94,334.57 78,335.08 78.06,335.65 78.12,336.27 78.18,336.94 78.24,337.67 78.3,338.44 78.36,339.26 78.42,340.11 78.48,340.99 78.54,341.9 78.6,342.82 78.66,343.77 78.72,344.72 78.78,345.68 78.84,346.64 78.9,347.59 78.96,348.52 79.02,349.43 79.09,350.32 79.15,351.17 79.21,351.98 79.27,352.75 79.33,353.47 79.39,354.14 79.45,354.74 79.51,355.28 79.57,355.75 79.63,356.15 79.69,356.48 79.75,356.72 79.81,356.89 79.87,356.97 79.93,356.97 79.99,356.89 80.05,356.72 80.11,356.46 80.17,356.13 80.23,355.71 80.29,355.22 80.35,354.65 80.41,354.01 80.47,353.3 80.53,352.53 80.59,351.7 80.65,350.82 80.72,349.89 80.78,348.93 80.84,347.93 80.9,346.91 80.96,345.87 81.02,344.81 81.08,343.76 81.14,342.72 81.2,341.69 81.26,340.68 81.32,339.7 81.38,338.76 81.44,337.87 81.5,337.03 81.56,336.25 81.62,335.54 81.68,334.9 81.74,334.34 81.8,333.86 81.86,333.47 81.92,333.18 81.98,332.98 82.04,332.87 82.1,332.87 82.16,332.97 82.22,333.16 82.28,333.46 82.35,333.85 82.41,334.33 82.47,334.91 82.53,335.57 82.59,336.31 82.65,337.13 82.71,338.02 82.77,338.97 82.83,339.97 82.89,341.02 82.95,342.11 83.01,343.22 83.07,344.35 83.13,345.49 83.19,346.63 83.25,347.75 83.31,348.85 83.37,349.91 83.43,350.94 83.49,351.91 83.55,352.82 83.61,353.65 83.67,354.41 83.73,355.08 83.79,355.66 83.85,356.14 83.91,356.52 83.98,356.78 84.04,356.94" fill="none" stroke="#00ff00" stroke-width="0.8"/>
<polyline points="84.04,356.94 84.1,356.98 84.16,356.9 84.22,356.71 84.28,356.41 84.34,355.99 84.4,355.47 84.46,354.84 84.52,354.11 84.58,353.29 84.64,352.39 84.7,351.41 84.76,350.36 84.82,349.26 84.88,348.11 84.94,346.93 85,345.72 85.06,344.5 85.12,343.29 85.18,342.09 85.24,340.91 85.3,339.78 85.36,338.69 85.42,337.67 85.48,336.72 85.54,335.86 85.61,335.09 85.67,334.42 85.73,333.87 85.79,333.43 85.85,333.11 85.91,332.92 85.97,332.86 86.03,332.93 86.09,333.13 86.15,333.46 86.21,333.92 86.27,334.49 86.33,335.19 86.39,335.99 86.45,336.9 86.51,337.9 86.57,338.98 86.63,340.12 86.69,341.33 86.75,342.57 86.81,343.85 86.87,345.14 86.93,346.43 86.99,347.71 87.05,348.96 87.11,350.16 87.17,351.3 87.24,352.37 87.3,353.35 87.36,354.24 87.42,355.02 87.48,355.68 87.54,356.21 87.6,356.61 87.66,356.86 87.72,356.98 87.78,356.94 87.84,356.76 87.9,356.44 87.96,355.97 88.02,355.37 88.08,354.63 88.14,353.78 88.2,352.81 88.26,351.74 88.32,350.59 88.38,349.36 88.44,348.07 88.5,346.74 88.56,345.38 88.62,344.02 88.68,342.67 88.74,341.34 88.8,340.05 88.87,338.83 88.93,337.68 88.99,336.63 89.05,335.68 89.11,334.85 89.17,334.16 89.23,333.6 89.29,333.2 89.35,332.95 89.41,332.86 89.47,332.93 89.53,333.17 89.59,333.56 89.65,334.11 89.71,334.8 89.77,335.64 89.83,336.61 89.89,337.69 89.95,338.87 90.01,340.14 90.07,341.48 90.13,342.87 90.19,344.29 90.25,345.72 90.31,347.14 90.37,348.53 90.43,349.88 90.5,351.16 90.56,352.34 90.62,353.43 90.68,354.39 90.74,355.22 90.8,355.9 90.86,356.42 90.92,356.78 90.98,356.96 91.04,356.96 91.1,356.79 91.16,356.44 91.22,355.92 91.28,355.23 91.34,354.39 91.4,353.4 91.46,352.29 91.52,351.06 91.58,349.74 91.64,348.34 91.7,346.89 91.76,345.4 91.82,343.91 91.88,342.42 91.94,340.98 92,339.59 92.06,338.28 92.13,337.08 92.19,335.99 92.25,335.05 92.31,334.26 92.37,333.63 92.43,333.19 92.49,332.93 92.55,332.86 92.61,332.99 92.67,333.3 92.73,333.81 92.79,334.5 92.85,335.35 92.91,336.37 92.97,337.52 93.03,338.8 93.09,340.18 93.15,341.64 93.21,343.16 93.27,344.71 93.33,346.27 93.39,347.81 93.45,349.3 93.51,350.71 93.57,352.04 93.63,353.24 93.69,354.31 93.76,355.21 93.82,355.95 93.88,356.49 93.94,356.84 94,356.98 94.06,356.91 94.12,356.63 94.18,356.15 94.24,355.48 94.3,354.61 94.36,353.58 94.42,352.39 94.48,351.06 94.54,349.63 94.6,348.11 94.66,346.53 94.72,344.91 94.78,343.3 94.84,341.71 94.9,340.18 94.96,338.73 95.02,337.4 95.08,336.19 95.14,335.15 95.2,334.28 95.26,333.61 95.32,333.15 95.39,332.9 95.45,332.88 95.51,333.08 95.57,333.5 95.63,334.14 95.69,334.98 95.75,336.01 95.81,337.21 95.87,338.56 95.93,340.03 95.99,341.6 96.05,343.23 96.11,344.9 96.17,346.57 96.23,348.21 96.29,349.79 96.35,351.28 96.41,352.64 96.47,353.86 96.53,354.9 96.59,355.75 96.65,356.39 96.71,356.8 96.77,356.97 96.83,356.91 96.89,356.61 96.95,356.07 97.02,355.31 97.08,354.33 97.14,353.17 97.2,351.84 97.26,350.36 97.32,348.77 97.38,347.1 97.44,345.39 97.5,343.66 97.56,341.95 97.62,340.31 97.68,338.76 97.74,337.33 97.8,336.06 97.86,334.97 97.92,334.09 97.98,333.44 98.04,333.02 98.1,332.86 98.16,332.95 98.22,333.3 98.28,333.9 98.34,334.73 98.4,335.78 98.46,337.03 98.52,338.46 98.58,340.02 98.65,341.69 98.71,343.44 98.77,345.21 98.83,346.99 98.89,348.72 98.95,350.37 99.01,351.91 99.07,353.29 99.13,354.48 99.19,355.47 99.25,356.22 99.31,356.72 99.37,356.96 99.43,356.93 99.49,356.62 99.55,356.06 99.61,355.23 99.67,354.18 99.73,352.91 99.79,351.45 99.85,349.85 99.91,348.13 99.97,346.33 100.03,344.5 100.09,342.67 100.15,340.9 100.21,339.21 100.28,337.66 100.34,336.28 100.4,335.09 100.46,334.14 100.52,333.44 100.58,333.01 100.64,332.86 100.7,333 100.76,333.42 100.82,334.12 100.88,335.08 100.94,336.28 101,337.68 101.06,339.27 101.12,340.99 101.18,342.81 101.24,344.68 101.3,346.56 101.36,348.41 101.42,350.17 101.48,351.81 101.54,353.27 101.6,354.53 101.66,355.56 101.72,356.32 101.78,356.8 101.84,356.98 101.91,356.86 101.97,356.44 102.03,355.73 102.09,354.74 102.15,353.5 102.21,352.05 102.27,350.41 102.33,348.63 102.39,346.75 102.45,344.82 102.51,342.89 102.57,341.02 102.63,339.24 102.69,337.6 102.75,336.16 102.81,334.94 102.87,333.98 102.93,333.3 102.99,332.93 103.05,332.88 103.11,333.14 103.17,333.71 103.23,334.59 103.29,335.73 103.35,337.13 103.41,338.73 103.47,340.51 103.54,342.4 103.6,344.36 103.66,346.35 103.72,348.29 103.78,350.15 103.84,351.86 103.9,353.39 103.96,354.69 104.02,355.72 104.08,356.46 104.14,356.88 104.2,356.97 104.26,356.73 104.32,356.16 104.38,355.27 104.44,354.1 104.5,352.67 104.56,351.02 104.62,349.19 104.68,347.25 104.74,345.23 104.8,343.21 104.86,341.23 104.92,339.35 104.98,337.63 105.04,336.11 105.1,334.85 105.17,333.87 105.23,333.21 105.29,332.89 105.35,332.92 105.41,333.29 105.47,334 105.53,335.03 105.59,336.35 105.65,337.93 105.71,339.71 105.77,341.64 105.83,343.68 105.89,345.75 105.95,347.8 106.01,349.77 106.07,351.6 106.13,353.23 106.19,354.61 106.25,355.7 106.31,356.48 106.37,356.9 106.43,356.96 106.49,356.66 106.55,356 106.61,355 106.67,353.7 106.73,352.12 106.8,350.33 106.86,348.36 106.92,346.29 106.98,344.17 107.04,342.07 107.1,340.06 107.16,338.2 107.22,336.54 107.28,335.15 107.34,334.05 107.4,333.3 107.46,332.91 107.52,332.9 107.58,333.27 107.64,334.01 107.7,335.09 107.76,336.49 107.82,338.16 107.88,340.05 107.94,342.09 108,344.23 108.06,346.39 108.12,348.51 108.18,350.51 108.24,352.34 108.3,353.92 108.36,355.22 108.43,356.18 108.49,356.77 108.55,356.98 108.61,356.79 108.67,356.21 108.73,355.26 108.79,353.96 108.85,352.37 108.91,350.52 108.97,348.48 109.03,346.33 109.09,344.12 109.15,341.94 109.21,339.86 109.27,337.94 109.33,336.26 109.39,334.87 109.45,333.82 109.51,333.14 109.57,332.87 109.63,333 109.69,333.54 109.75,334.47 109.81,335.77 109.87,337.37 109.93,339.24 109.99,341.31 110.06,343.51 110.12,345.76 110.18,347.98 110.24,350.09 110.3,352.03 110.36,353.72 110.42,355.11 110.48,356.13 110.54,356.77 110.6,356.98 110.66,356.77 110.72,356.14 110.78,355.1 110.84,353.71 110.9,352 110.96,350.03 111.02,347.88 111.08,345.62 111.14,343.33 111.2,341.1 111.26,339 111.32,337.11 111.38,335.51 111.44,334.25 111.5,333.37 111.56,332.92 111.62,332.91 111.69,333.34 111.75,334.19 111.81,335.44 111.87,337.05 111.93,338.94 111.99,341.06 112.05,343.33 112.11,345.66 112.17,347.96 112.23,350.15 112.29,352.15 112.35,353.88 112.41,355.27 112.47,356.27 112.53,356.85 112.59,356.97 112.65,356.63 112.71,355.85 112.77,354.65 112.83,353.08 112.89,351.19 112.95,349.06 113.01,346.77 113.07,344.4 113.13,342.05 113.19,339.81 113.25,337.77 113.32,336 113.38,334.58 113.44,333.56 113.5,332.98 113.56,332.88 113.62,333.24 113.68,334.07 113.74,335.32 113.8,336.96 113.86,338.91 113.92,341.1 113.98,343.45 114.04,345.86 114.1,348.23 114.16,350.47 114.22,352.5 114.28,354.22 114.34,355.56 114.4,356.48 114.46,356.94 114.52,356.9 114.58,356.38 114.64,355.39 114.7,353.98 114.76,352.19 114.82,350.1 114.88,347.8 114.95,345.38 115.01,342.94 115.07,340.57 115.13,338.39 115.19,336.47 115.25,334.9 115.31,333.74 115.37,333.06 115.43,332.86 115.49,333.17 115.55,333.98 115.61,335.24 115.67,336.92 115.73,338.93 115.79,341.2 115.85,343.63 115.91,346.11 115.97,348.55 116.03,350.83 116.09,352.87 116.15,354.57 116.21,355.85 116.27,356.67 116.33,356.98 116.39,356.77 116.45,356.05 116.51,354.85 116.58,353.21 116.64,351.21 116.7,348.94 116.76,346.49 116.82,343.97 116.88,341.49 116.94,339.15 117,337.07 117.06,335.33 117.12,334.01 117.18,333.18 117.24,332.86 117.3,333.08 117.36,333.83 117.42,335.07 117.48,336.75 117.54,338.8 117.6,341.13 117.66,343.63 117.72,346.19 117.78,348.7 117.84,351.03 117.9,353.1 117.96,354.79 118.02,356.03 118.08,356.78 118.14,356.98 118.21,356.63 118.27,355.74 118.33,354.35 118.39,352.53 118.45,350.36 118.51,347.94 118.57,345.37 118.63,342.78 118.69,340.28 118.75,338 118.81,336.04 118.87,334.5 118.93,333.44 118.99,332.91 119.05,332.95 119.11,333.55 119.17,334.69 119.23,336.32 119.29,338.35 119.35,340.7 119.41,343.24 119.47,345.87 119.53,348.46 119.59,350.88 119.65,353.02 119.71,354.77 119.77,356.05 119.84,356.8 119.9,356.97 119.96,356.56 120.02,355.59 120.08,354.1 120.14,352.16 120.2,349.87 120.26,347.33 120.32,344.68 120.38,342.03 120.44,339.52 120.5,337.28 120.56,335.41 120.62,334.01 120.68,333.14 120.74,332.86 120.8,333.17 120.86,334.07 120.92,335.51 120.98,337.42 121.04,339.71 121.1,342.26 121.16,344.94 121.22,347.63 121.28,350.18 121.34,352.47 121.4,354.38 121.47,355.81 121.53,356.7 121.59,356.98 121.65,356.65 121.71,355.73 121.77,354.25 121.83,352.29 121.89,349.95 121.95,347.36 122.01,344.63 122.07,341.92 122.13,339.36 122.19,337.09 122.25,335.22 122.31,333.85 122.37,333.05 122.43,332.87 122.49,333.33 122.55,334.38 122.61,335.99 122.67,338.07 122.73,340.51 122.79,343.19 122.85,345.96 122.91,348.68 122.97,351.2 123.03,353.39 123.1,355.13 123.16,356.33 123.22,356.92 123.28,356.88 123.34,356.19 123.4,354.9 123.46,353.07 123.52,350.8 123.58,348.22 123.64,345.45 123.7,342.65 123.76,339.98 123.82,337.56 123.88,335.55 123.94,334.05 124,333.13 124.06,332.86 124.12,333.25 124.18,334.28 124.24,335.9 124.3,338.01 124.36,340.5 124.42,343.25 124.48,346.08 124.54,348.86 124.6,351.42 124.66,353.61 124.73,355.33 124.79,356.47 124.85,356.96 124.91,356.78 124.97,355.94 125.03,354.47 125.09,352.47 125.15,350.03 125.21,347.31 125.27,344.45 125.33,341.62 125.39,338.97 125.45,336.65 125.51,334.81 125.57,333.54 125.63,332.92 125.69,332.98 125.75,333.73 125.81,335.13 125.87,337.09 125.93,339.5 125.99,342.23 126.05,345.11 126.11,347.99 126.17,350.69 126.23,353.06 126.29,354.95 126.36,356.27 126.42,356.92 126.48,356.86 126.54,356.11 126.6,354.7 126.66,352.72 126.72,350.27 126.78,347.5 126.84,344.58 126.9,341.68 126.96,338.97 127.02,336.6 127.08,334.74 127.14,333.47 127.2,332.89 127.26,333.03 127.32,333.88 127.38,335.4 127.44,337.49 127.5,340.03 127.56,342.86 127.62,345.82 127.68,348.73 127.74,351.41 127.8,353.7 127.86,355.46 127.92,356.57 127.99,356.98 128.05,356.65 128.11,355.6 128.17,353.89 128.23,351.63 128.29,348.96 128.35,346.03 128.41,343.04 128.47,340.16 128.53,337.57 128.59,335.43 128.65,333.88 128.71,333.02 128.77,332.9 128.83,333.53 128.89,334.88 128.95,336.85 129.01,339.33 129.07,342.17 129.13,345.18 129.19,348.18 129.25,350.97 129.31,353.38 129.37,355.26 129.43,356.48 129.49,356.97 129.55,356.69 129.62,355.66 129.68,353.95 129.74,351.65 129.8,348.92 129.86,345.93 129.92,342.87 129.98,339.95 130.04,337.34 130.1,335.22 130.16,333.72 130.22,332.95 130.28,332.96 130.34,333.75 130.4,335.26 130.46,337.41 130.52,340.04 130.58,343 130.64,346.09 130.7,349.1 130.76,351.84 130.82,354.13 130.88,355.81 130.94,356.77 131,356.95 131.06,356.33 131.12,354.95 131.18,352.91 131.25,350.33 131.31,347.38 131.37,344.27 131.43,341.2 131.49,338.38 131.55,336 131.61,334.21 131.67,333.14 131.73,332.87 131.79,333.41 131.85,334.73 131.91,336.74 131.97,339.31 132.03,342.27 132.09,345.4 132.15,348.51 132.21,351.37 132.27,353.79 132.33,355.61 132.39,356.69 132.45,356.97 132.51,356.42 132.57,355.07 132.63,353.02 132.69,350.41 132.75,347.42 132.81,344.25 132.88,341.12 132.94,338.26 133,335.86 133.06,334.09 133.12,333.08 133.18,332.89 133.24,333.55 133.3,335.01 133.36,337.17 133.42,339.87 133.48,342.94 133.54,346.14 133.6,349.26 133.66,352.08 133.72,354.39 133.78,356.03 133.84,356.88 133.9,356.87 133.96,356.01 134.02,354.36 134.08,352.03 134.14,349.18 134.2,346.03 134.26,342.8 134.32,339.71 134.38,337 134.44,334.86 134.51,333.45 134.57,332.87 134.63,333.16 134.69,334.31 134.75,336.24 134.81,338.8 134.87,341.81 134.93,345.04 134.99,348.28 135.05,351.26 135.11,353.79 135.17,355.66 135.23,356.74 135.29,356.95 135.35,356.27 135.41,354.74 135.47,352.49 135.53,349.67 135.59,346.5 135.65,343.21 135.71,340.04 135.77,337.23 135.83,335 135.89,333.51 135.95,332.88 136.01,333.15 136.07,334.31 136.14,336.27 136.2,338.89 136.26,341.96 136.32,345.26 136.38,348.54 136.44,351.54 136.5,354.05 136.56,355.86 136.62,356.83 136.68,356.9 136.74,356.04 136.8,354.34 136.86,351.91 136.92,348.94 136.98,345.66 137.04,342.32 137.1,339.17 137.16,336.48 137.22,334.43 137.28,333.19 137.34,332.87 137.4,333.48 137.46,334.99 137.52,337.27 137.58,340.15 137.64,343.41 137.7,346.79 137.77,350.02 137.83,352.86 137.89,355.07 137.95,356.48 138.01,356.98 138.07,356.53 138.13,355.16 138.19,352.97 138.25,350.14 138.31,346.9 138.37,343.5 138.43,340.2 138.49,337.29 138.55,334.98 138.61,333.46 138.67,332.87 138.73,333.24 138.79,334.55 138.85,336.7 138.91,339.51 138.97,342.77 139.03,346.2 139.09,349.53 139.15,352.48 139.21,354.83 139.27,356.37 139.33,356.97 139.4,356.6 139.46,355.27 139.52,353.09 139.58,350.24 139.64,346.95 139.7,343.49 139.76,340.15 139.82,337.2 139.88,334.88 139.94,333.39 140,332.86 140.06,333.33 140.12,334.76 140.18,337.03 140.24,339.97 140.3,343.32 140.36,346.8 140.42,350.13 140.48,353.03 140.54,355.25 140.6,356.6 140.66,356.97 140.72,356.33 140.78,354.72 140.84,352.29 140.9,349.23 140.96,345.8 141.03,342.29 141.09,339.01 141.15,336.23 141.21,334.18 141.27,333.05 141.33,332.94 141.39,333.84 141.45,335.7 141.51,338.35 141.57,341.57 141.63,345.07 141.69,348.57 141.75,351.75 141.81,354.35 141.87,356.13 141.93,356.94 141.99,356.71 142.05,355.46 142.11,353.28 142.17,350.38 142.23,347 142.29,343.44 142.35,340 142.41,336.99 142.47,334.68 142.53,333.26 142.59,332.87 142.66,333.54 142.72,335.21 142.78,337.74 142.84,340.91 142.9,344.43 142.96,348 143.02,351.3 143.08,354.04 143.14,355.96 143.2,356.9 143.26,356.77 143.32,355.59 143.38,353.44 143.44,350.53 143.5,347.12 143.56,343.51 143.62,340.02" fill="none" stroke="#00ff00" stroke-width="0.55"/>
<defs><linearGradient id="fadeA" gradientUnits="userSpaceOnUse" x1="106" y1="0" x2="138" y2="0"><stop offset="0" stop-color="#fff" stop-opacity="0"/><stop offset="1" stop-color="#fff" stop-opacity="1"/></linearGradient><mask id="mA" maskUnits="userSpaceOnUse" x="0" y="0" width="602" height="518"><rect x="0" y="0" width="602" height="518" fill="url(#fadeA)"/></mask><linearGradient id="fadeS" gradientUnits="userSpaceOnUse" x1="86" y1="0" x2="152" y2="0"><stop offset="0" stop-color="#fff" stop-opacity="0"/><stop offset="0.2" stop-color="#fff" stop-opacity="0.8"/><stop offset="0.65" stop-color="#fff" stop-opacity="0.8"/><stop offset="1" stop-color="#fff" stop-opacity="0"/></linearGradient><mask id="mS" maskUnits="userSpaceOnUse" x="0" y="0" width="602" height="518"><rect x="0" y="0" width="602" height="518" fill="url(#fadeS)"/></mask><linearGradient id="bandA" gradientUnits="userSpaceOnUse" x1="0" y1="332.7" x2="0" y2="357"><stop offset="0" stop-color="#6a6a80"/><stop offset="0.08" stop-color="#3a8466"/><stop offset="0.3" stop-color="#3a9a6a"/><stop offset="0.5" stop-color="#3a7c66"/><stop offset="0.7" stop-color="#3a9a6a"/><stop offset="0.92" stop-color="#3a8466"/><stop offset="1" stop-color="#6a6a80"/></linearGradient><linearGradient id="strp" gradientUnits="userSpaceOnUse" x1="0" y1="332.7" x2="0" y2="357"><stop offset="0.18" stop-color="#7ad8a8" stop-opacity="0"/><stop offset="0.28" stop-color="#7ad8a8" stop-opacity="0.85"/><stop offset="0.38" stop-color="#7ad8a8" stop-opacity="0"/><stop offset="0.62" stop-color="#7ad8a8" stop-opacity="0"/><stop offset="0.72" stop-color="#7ad8a8" stop-opacity="0.85"/><stop offset="0.82" stop-color="#7ad8a8" stop-opacity="0"/></linearGradient><linearGradient id="fadeB" gradientUnits="userSpaceOnUse" x1="132" y1="0" x2="182" y2="0"><stop offset="0" stop-color="#fff" stop-opacity="0"/><stop offset="1" stop-color="#fff" stop-opacity="1"/></linearGradient><mask id="mB" maskUnits="userSpaceOnUse" x="0" y="0" width="602" height="518"><rect x="0" y="0" width="602" height="518" fill="url(#fadeB)"/></mask><linearGradient id="bandB" gradientUnits="userSpaceOnUse" x1="0" y1="330.4" x2="0" y2="359.3"><stop offset="0" stop-color="#2a7a5a"/><stop offset="0.12" stop-color="#1e8a5a"/><stop offset="0.24" stop-color="#14a850"/><stop offset="0.32" stop-color="#00dc1c"/><stop offset="0.68" stop-color="#00dc1c"/><stop offset="0.76" stop-color="#14a850"/><stop offset="0.88" stop-color="#1e8a5a"/><stop offset="1" stop-color="#2a7a5a"/></linearGradient></defs>
<g mask="url(#mA)"><polygon points="96,332.8 97,332.8 98,332.8 99,332.79 100,332.79 101,332.79 102,332.79 103,332.79 104,332.79 105,332.78 106,332.78 107,332.78 108,332.78 109,332.78 110,332.77 111,332.77 112,332.77 113,332.77 114,332.77 115,332.76 116,332.76 117,332.76 118,332.76 119,332.76 120,332.76 121,332.75 122,332.75 123,332.75 124,332.75 125,332.75 126,332.74 127,332.74 128,332.74 129,332.74 130,332.74 131,332.74 132,332.73 133,332.73 134,332.73 135,332.73 136,332.73 137,332.72 138,332.72 139,332.72 140,332.72 141,332.72 142,332.71 143,332.71 144,332.71 145,332.71 146,332.71 147,332.71 148,332.7 149,332.7 150,332.7 151,332.7 152,332.7 153,332.7 154,332.7 155,332.7 156,332.7 157,332.7 158,332.7 159,332.7 160,332.7 161,332.64 162,332.58 163,332.52 164,332.46 165,332.4 166,332.34 167,332.28 168,332.22 169,332.16 170,332.1 171,332.04 172,331.98 173,331.92 174,331.86 175,331.8 176,331.74 177,331.68 178,331.62 179,331.56 180,331.5 181,331.36 182,331.21 183,331.07 184,330.93 185,330.79 186,330.64 187,330.5 188,330.5 189,330.5 190,330.5 191,330.5 192,330.49 193,330.49 194,330.49 195,330.49 196,330.49 197,330.49 198,330.49 199,330.49 200,330.48 201,330.48 202,330.48 203,330.48 204,330.48 205,330.48 206,330.48 207,330.48 208,330.48 209,330.47 210,330.47 211,330.47 212,330.47 213,330.47 214,330.47 215,330.47 216,330.47 217,330.47 218,330.46 219,330.46 220,330.46 221,330.46 222,330.46 223,330.46 224,330.46 225,330.46 226,330.45 227,330.45 228,330.45 229,330.45 230,330.45 231,330.45 232,330.45 233,330.45 234,330.45 235,330.44 236,330.44 237,330.44 238,330.44 239,330.44 240,330.44 241,330.44 242,330.44 243,330.44 244,330.43 245,330.43 246,330.43 247,330.43 248,330.43 249,330.43 250,330.43 251,330.43 252,330.42 253,330.42 254,330.42 255,330.42 256,330.42 257,330.42 258,330.42 259,330.42 260,330.42 261,330.41 262,330.41 263,330.41 264,330.41 265,330.41 266,330.41 267,330.41 268,330.41 269,330.41 270,330.4 271,330.4 272,330.4 273,330.4 273,359.3 272,359.29 271,359.29 270,359.29 269,359.28 268,359.28 267,359.28 266,359.27 265,359.27 264,359.27 263,359.26 262,359.26 261,359.26 260,359.25 259,359.25 258,359.25 257,359.24 256,359.24 255,359.24 254,359.23 253,359.23 252,359.23 251,359.22 250,359.22 249,359.21 248,359.21 247,359.21 246,359.2 245,359.2 244,359.2 243,359.19 242,359.19 241,359.19 240,359.18 239,359.18 238,359.18 237,359.17 236,359.17 235,359.17 234,359.16 233,359.16 232,359.16 231,359.15 230,359.15 229,359.15 228,359.14 227,359.14 226,359.14 225,359.13 224,359.13 223,359.12 222,359.12 221,359.12 220,359.11 219,359.11 218,359.11 217,359.1 216,359.1 215,359.1 214,359.09 213,359.09 212,359.09 211,359.08 210,359.08 209,359.08 208,359.07 207,359.07 206,359.07 205,359.06 204,359.06 203,359.06 202,359.05 201,359.05 200,359.05 199,359.04 198,359.04 197,359.03 196,359.03 195,359.03 194,359.02 193,359.02 192,359.02 191,359.01 190,359.01 189,359.01 188,359 187,359 186,358.89 185,358.77 184,358.66 183,358.54 182,358.43 181,358.31 180,358.2 179,358.15 178,358.11 177,358.06 176,358.02 175,357.98 174,357.93 173,357.88 172,357.84 171,357.8 170,357.75 169,357.7 168,357.66 167,357.62 166,357.57 165,357.52 164,357.48 163,357.44 162,357.39 161,357.35 160,357.3 159,357.26 158,357.22 157,357.18 156,357.14 155,357.1 154,357.06 153,357.02 152,356.98 151,356.94 150,356.9 149,356.9 148,356.9 147,356.9 146,356.9 145,356.9 144,356.9 143,356.9 142,356.9 141,356.9 140,356.9 139,356.9 138,356.9 137,356.9 136,356.9 135,356.9 134,356.9 133,356.9 132,356.9 131,356.9 130,356.9 129,356.9 128,356.9 127,356.9 126,356.9 125,356.9 124,356.9 123,356.9 122,356.9 121,356.9 120,356.9 119,356.9 118,356.9 117,356.9 116,356.9 115,356.9 114,356.9 113,356.9 112,356.9 111,356.9 110,356.9 109,356.9 108,356.9 107,356.9 106,356.9 105,356.9 104,356.9 103,356.9 102,356.9 101,356.9 100,356.9 99,356.9 98,356.9 97,356.9 96,356.9" fill="url(#bandA)"/></g>
<g mask="url(#mS)"><rect x="86" y="332.7" width="70" height="24.3" fill="url(#strp)"/></g>
<g mask="url(#mB)"><polygon points="96,332.8 97,332.8 98,332.8 99,332.79 100,332.79 101,332.79 102,332.79 103,332.79 104,332.79 105,332.78 106,332.78 107,332.78 108,332.78 109,332.78 110,332.77 111,332.77 112,332.77 113,332.77 114,332.77 115,332.76 116,332.76 117,332.76 118,332.76 119,332.76 120,332.76 121,332.75 122,332.75 123,332.75 124,332.75 125,332.75 126,332.74 127,332.74 128,332.74 129,332.74 130,332.74 131,332.74 132,332.73 133,332.73 134,332.73 135,332.73 136,332.73 137,332.72 138,332.72 139,332.72 140,332.72 141,332.72 142,332.71 143,332.71 144,332.71 145,332.71 146,332.71 147,332.71 148,332.7 149,332.7 150,332.7 151,332.7 152,332.7 153,332.7 154,332.7 155,332.7 156,332.7 157,332.7 158,332.7 159,332.7 160,332.7 161,332.64 162,332.58 163,332.52 164,332.46 165,332.4 166,332.34 167,332.28 168,332.22 169,332.16 170,332.1 171,332.04 172,331.98 173,331.92 174,331.86 175,331.8 176,331.74 177,331.68 178,331.62 179,331.56 180,331.5 181,331.36 182,331.21 183,331.07 184,330.93 185,330.79 186,330.64 187,330.5 188,330.5 189,330.5 190,330.5 191,330.5 192,330.49 193,330.49 194,330.49 195,330.49 196,330.49 197,330.49 198,330.49 199,330.49 200,330.48 201,330.48 202,330.48 203,330.48 204,330.48 205,330.48 206,330.48 207,330.48 208,330.48 209,330.47 210,330.47 211,330.47 212,330.47 213,330.47 214,330.47 215,330.47 216,330.47 217,330.47 218,330.46 219,330.46 220,330.46 221,330.46 222,330.46 223,330.46 224,330.46 225,330.46 226,330.45 227,330.45 228,330.45 229,330.45 230,330.45 231,330.45 232,330.45 233,330.45 234,330.45 235,330.44 236,330.44 237,330.44 238,330.44 239,330.44 240,330.44 241,330.44 242,330.44 243,330.44 244,330.43 245,330.43 246,330.43 247,330.43 248,330.43 249,330.43 250,330.43 251,330.43 252,330.42 253,330.42 254,330.42 255,330.42 256,330.42 257,330.42 258,330.42 259,330.42 260,330.42 261,330.41 262,330.41 263,330.41 264,330.41 265,330.41 266,330.41 267,330.41 268,330.41 269,330.41 270,330.4 271,330.4 272,330.4 273,330.4 273,359.3 272,359.29 271,359.29 270,359.29 269,359.28 268,359.28 267,359.28 266,359.27 265,359.27 264,359.27 263,359.26 262,359.26 261,359.26 260,359.25 259,359.25 258,359.25 257,359.24 256,359.24 255,359.24 254,359.23 253,359.23 252,359.23 251,359.22 250,359.22 249,359.21 248,359.21 247,359.21 246,359.2 245,359.2 244,359.2 243,359.19 242,359.19 241,359.19 240,359.18 239,359.18 238,359.18 237,359.17 236,359.17 235,359.17 234,359.16 233,359.16 232,359.16 231,359.15 230,359.15 229,359.15 228,359.14 227,359.14 226,359.14 225,359.13 224,359.13 223,359.12 222,359.12 221,359.12 220,359.11 219,359.11 218,359.11 217,359.1 216,359.1 215,359.1 214,359.09 213,359.09 212,359.09 211,359.08 210,359.08 209,359.08 208,359.07 207,359.07 206,359.07 205,359.06 204,359.06 203,359.06 202,359.05 201,359.05 200,359.05 199,359.04 198,359.04 197,359.03 196,359.03 195,359.03 194,359.02 193,359.02 192,359.02 191,359.01 190,359.01 189,359.01 188,359 187,359 186,358.89 185,358.77 184,358.66 183,358.54 182,358.43 181,358.31 180,358.2 179,358.15 178,358.11 177,358.06 176,358.02 175,357.98 174,357.93 173,357.88 172,357.84 171,357.8 170,357.75 169,357.7 168,357.66 167,357.62 166,357.57 165,357.52 164,357.48 163,357.44 162,357.39 161,357.35 160,357.3 159,357.26 158,357.22 157,357.18 156,357.14 155,357.1 154,357.06 153,357.02 152,356.98 151,356.94 150,356.9 149,356.9 148,356.9 147,356.9 146,356.9 145,356.9 144,356.9 143,356.9 142,356.9 141,356.9 140,356.9 139,356.9 138,356.9 137,356.9 136,356.9 135,356.9 134,356.9 133,356.9 132,356.9 131,356.9 130,356.9 129,356.9 128,356.9 127,356.9 126,356.9 125,356.9 124,356.9 123,356.9 122,356.9 121,356.9 120,356.9 119,356.9 118,356.9 117,356.9 116,356.9 115,356.9 114,356.9 113,356.9 112,356.9 111,356.9 110,356.9 109,356.9 108,356.9 107,356.9 106,356.9 105,356.9 104,356.9 103,356.9 102,356.9 101,356.9 100,356.9 99,356.9 98,356.9 97,356.9 96,356.9" fill="url(#bandB)"/></g>
<g stroke-width="0.6" stroke-opacity="0.7"><path d="M183.90 333.71V329.58" stroke="#20d020"/><path d="M183.90 355.91V359.25" stroke="#20d020"/><path d="M184.35 333.67V330.36" stroke="#a08040"/><path d="M184.35 355.97V359.32" stroke="#a08040"/><path d="M184.80 333.62V330.32" stroke="#3030ff"/><path d="M184.80 356.02V359.36" stroke="#3030ff"/><path d="M185.25 356.08V360.16" stroke="#c040c0"/><path d="M186.15 333.49V329.53" stroke="#ff3030"/><path d="M186.15 356.19V359.50" stroke="#ff3030"/><path d="M186.60 356.25V361.00" stroke="#ff3030"/><path d="M187.05 333.40V327.45" stroke="#ff3030"/><path d="M187.05 356.30V360.11" stroke="#ff3030"/><path d="M187.50 356.30V359.81" stroke="#ff3030"/><path d="M188.85 356.30V359.99" stroke="#ff3030"/><path d="M189.30 333.40V329.88" stroke="#ff3030"/><path d="M189.75 333.40V326.27" stroke="#3030ff"/><path d="M189.75 356.30V359.60" stroke="#3030ff"/><path d="M190.20 333.40V327.26" stroke="#ff3030"/><path d="M190.65 356.30V359.60" stroke="#3030ff"/><path d="M191.10 356.30V362.15" stroke="#20d020"/><path d="M191.55 333.40V328.33" stroke="#c040c0"/><path d="M192.00 356.30V360.16" stroke="#a08040"/><path d="M192.45 333.40V329.72" stroke="#a08040"/><path d="M192.45 356.30V359.81" stroke="#a08040"/><path d="M192.90 333.40V329.62" stroke="#a08040"/><path d="M193.35 333.40V326.31" stroke="#20d020"/><path d="M194.25 333.40V329.86" stroke="#3030ff"/><path d="M194.70 333.40V330.00" stroke="#a08040"/><path d="M194.70 356.30V362.31" stroke="#a08040"/><path d="M195.60 356.30V360.27" stroke="#3030ff"/><path d="M196.05 356.30V359.66" stroke="#a08040"/><path d="M196.50 356.30V364.05" stroke="#20d020"/><path d="M196.95 333.40V330.01" stroke="#3030ff"/><path d="M196.95 356.30V359.87" stroke="#3030ff"/><path d="M197.85 333.40V327.71" stroke="#3030ff"/><path d="M197.85 356.30V359.90" stroke="#3030ff"/><path d="M198.30 356.30V361.15" stroke="#3030ff"/><path d="M198.75 333.40V328.58" stroke="#ff3030"/><path d="M198.75 356.30V360.01" stroke="#ff3030"/><path d="M199.20 333.40V329.44" stroke="#c040c0"/><path d="M199.65 333.40V329.64" stroke="#c040c0"/><path d="M199.65 356.30V359.61" stroke="#c040c0"/><path d="M201.90 333.40V327.15" stroke="#3030ff"/><path d="M201.90 356.30V359.90" stroke="#3030ff"/><path d="M202.35 356.30V363.03" stroke="#20d020"/><path d="M202.80 333.40V329.49" stroke="#a08040"/><path d="M203.25 333.40V327.41" stroke="#3030ff"/><path d="M203.25 356.30V362.04" stroke="#3030ff"/><path d="M203.70 333.40V330.09" stroke="#a08040"/><path d="M205.05 333.40V329.95" stroke="#3030ff"/><path d="M205.50 356.30V360.40" stroke="#a08040"/><path d="M205.95 333.40V329.74" stroke="#a08040"/><path d="M206.40 333.40V329.88" stroke="#20d020"/><path d="M206.40 356.30V359.60" stroke="#20d020"/><path d="M206.85 356.30V363.92" stroke="#3030ff"/><path d="M207.75 333.40V330.09" stroke="#a08040"/><path d="M207.75 356.30V359.63" stroke="#a08040"/><path d="M208.65 356.30V362.39" stroke="#ff3030"/><path d="M209.10 333.40V330.09" stroke="#a08040"/><path d="M209.10 356.30V359.91" stroke="#a08040"/><path d="M209.55 356.30V359.96" stroke="#a08040"/><path d="M210.00 356.30V360.87" stroke="#c040c0"/><path d="M210.45 333.40V328.88" stroke="#3030ff"/><path d="M210.90 356.30V359.69" stroke="#ff3030"/><path d="M211.35 333.40V330.03" stroke="#a08040"/><path d="M211.35 356.30V361.77" stroke="#a08040"/><path d="M211.80 333.40V327.88" stroke="#ff3030"/><path d="M212.25 356.30V359.60" stroke="#ff3030"/><path d="M212.70 333.40V328.02" stroke="#3030ff"/><path d="M212.70 356.30V359.60" stroke="#3030ff"/><path d="M214.05 333.40V330.10" stroke="#20d020"/><path d="M214.05 356.30V360.34" stroke="#20d020"/><path d="M214.50 333.40V329.70" stroke="#c040c0"/><path d="M214.50 356.30V359.69" stroke="#c040c0"/><path d="M215.40 356.30V359.77" stroke="#3030ff"/><path d="M215.85 333.40V330.10" stroke="#ff3030"/><path d="M215.85 356.30V359.61" stroke="#ff3030"/><path d="M216.30 333.40V326.97" stroke="#ff3030"/><path d="M216.75 333.40V328.61" stroke="#c040c0"/><path d="M217.65 333.40V329.99" stroke="#ff3030"/><path d="M217.65 356.30V360.82" stroke="#ff3030"/><path d="M218.10 333.40V326.50" stroke="#ff3030"/><path d="M218.10 356.30V359.74" stroke="#ff3030"/><path d="M219.00 333.40V328.91" stroke="#3030ff"/><path d="M219.00 356.30V360.32" stroke="#3030ff"/><path d="M219.45 333.40V330.10" stroke="#20d020"/><path d="M219.90 356.30V359.70" stroke="#c040c0"/><path d="M220.35 333.40V329.97" stroke="#c040c0"/><path d="M220.35 356.30V359.63" stroke="#c040c0"/><path d="M220.80 333.40V327.26" stroke="#20d020"/><path d="M220.80 356.30V362.08" stroke="#20d020"/><path d="M221.25 333.40V330.07" stroke="#3030ff"/><path d="M221.70 333.40V329.47" stroke="#ff3030"/><path d="M221.70 356.30V359.63" stroke="#ff3030"/><path d="M223.05 356.30V359.66" stroke="#ff3030"/><path d="M223.50 333.40V327.38" stroke="#3030ff"/><path d="M223.95 333.40V328.01" stroke="#20d020"/><path d="M223.95 356.30V363.43" stroke="#20d020"/><path d="M224.40 333.40V330.10" stroke="#a08040"/><path d="M224.85 333.40V325.86" stroke="#3030ff"/><path d="M225.30 356.30V362.73" stroke="#20d020"/><path d="M225.75 356.30V359.70" stroke="#20d020"/><path d="M226.20 333.40V329.90" stroke="#a08040"/><path d="M226.20 356.30V363.16" stroke="#a08040"/><path d="M226.65 333.40V329.39" stroke="#ff3030"/><path d="M226.65 356.30V360.36" stroke="#ff3030"/><path d="M227.10 333.40V325.92" stroke="#c040c0"/><path d="M227.10 356.30V359.68" stroke="#c040c0"/><path d="M227.55 356.30V362.63" stroke="#c040c0"/><path d="M228.00 333.40V328.61" stroke="#ff3030"/><path d="M228.45 356.30V360.27" stroke="#3030ff"/><path d="M228.90 356.30V362.26" stroke="#3030ff"/><path d="M229.35 356.30V359.74" stroke="#20d020"/><path d="M230.70 356.30V359.60" stroke="#a08040"/><path d="M231.15 333.40V328.61" stroke="#3030ff"/><path d="M231.15 356.30V362.21" stroke="#3030ff"/><path d="M231.60 356.30V360.51" stroke="#a08040"/><path d="M232.05 356.30V360.13" stroke="#20d020"/><path d="M232.50 356.30V359.60" stroke="#c040c0"/><path d="M232.95 356.30V363.70" stroke="#a08040"/><path d="M233.40 333.40V327.33" stroke="#a08040"/><path d="M234.30 356.30V359.84" stroke="#ff3030"/><path d="M234.75 356.30V361.19" stroke="#20d020"/><path d="M236.10 356.30V359.60" stroke="#3030ff"/><path d="M236.55 356.30V362.59" stroke="#c040c0"/><path d="M237.00 356.30V360.72" stroke="#ff3030"/><path d="M238.35 333.40V329.59" stroke="#3030ff"/><path d="M238.80 333.40V328.66" stroke="#ff3030"/><path d="M239.25 333.40V327.35" stroke="#a08040"/><path d="M239.70 333.40V326.56" stroke="#c040c0"/><path d="M240.15 333.40V328.96" stroke="#a08040"/><path d="M240.15 356.30V360.58" stroke="#a08040"/><path d="M241.05 333.40V330.09" stroke="#c040c0"/><path d="M241.50 333.40V330.04" stroke="#3030ff"/><path d="M241.95 333.40V327.45" stroke="#ff3030"/><path d="M242.85 333.40V329.90" stroke="#a08040"/><path d="M243.75 333.40V330.09" stroke="#20d020"/><path d="M244.20 333.40V330.10" stroke="#a08040"/><path d="M244.20 356.30V359.67" stroke="#a08040"/><path d="M244.65 333.40V330.06" stroke="#c040c0"/><path d="M244.65 356.30V359.62" stroke="#c040c0"/><path d="M245.10 333.40V330.06" stroke="#a08040"/><path d="M245.10 356.30V362.34" stroke="#a08040"/><path d="M245.55 356.30V359.61" stroke="#3030ff"/><path d="M246.00 356.30V360.43" stroke="#20d020"/><path d="M246.90 333.40V329.98" stroke="#a08040"/><path d="M246.90 356.30V360.24" stroke="#a08040"/><path d="M247.35 356.30V359.60" stroke="#a08040"/><path d="M247.80 333.40V330.07" stroke="#a08040"/><path d="M247.80 356.30V363.40" stroke="#a08040"/><path d="M248.25 333.40V328.49" stroke="#20d020"/><path d="M248.25 356.30V359.90" stroke="#20d020"/><path d="M248.70 333.40V328.04" stroke="#20d020"/><path d="M248.70 356.30V359.70" stroke="#20d020"/><path d="M249.60 333.40V329.28" stroke="#3030ff"/><path d="M249.60 356.30V359.95" stroke="#3030ff"/><path d="M250.05 333.40V327.71" stroke="#3030ff"/><path d="M250.05 356.30V363.99" stroke="#3030ff"/><path d="M250.50 333.40V330.10" stroke="#3030ff"/><path d="M250.95 356.30V360.26" stroke="#3030ff"/><path d="M251.40 356.30V363.53" stroke="#20d020"/><path d="M251.85 333.40V327.62" stroke="#3030ff"/><path d="M251.85 356.30V360.83" stroke="#3030ff"/><path d="M252.75 356.30V359.60" stroke="#20d020"/><path d="M253.20 333.40V329.90" stroke="#a08040"/><path d="M253.20 356.30V360.81" stroke="#a08040"/><path d="M253.65 356.30V359.75" stroke="#a08040"/><path d="M254.10 333.40V330.10" stroke="#20d020"/><path d="M254.10 356.30V359.75" stroke="#20d020"/><path d="M254.55 356.30V360.34" stroke="#3030ff"/><path d="M255.00 333.40V327.46" stroke="#ff3030"/><path d="M255.00 356.30V359.61" stroke="#ff3030"/><path d="M255.45 356.30V359.64" stroke="#3030ff"/><path d="M255.90 333.40V327.51" stroke="#a08040"/><path d="M255.90 356.30V360.41" stroke="#a08040"/><path d="M256.35 333.40V329.92" stroke="#a08040"/><path d="M256.80 333.40V328.39" stroke="#20d020"/><path d="M256.80 356.30V359.72" stroke="#20d020"/><path d="M257.25 333.40V328.88" stroke="#a08040"/><path d="M257.70 356.30V359.63" stroke="#a08040"/><path d="M258.15 333.40V329.72" stroke="#c040c0"/><path d="M259.50 333.40V328.21" stroke="#3030ff"/><path d="M259.50 356.30V361.19" stroke="#3030ff"/><path d="M259.95 333.40V326.35" stroke="#20d020"/><path d="M259.95 356.30V361.83" stroke="#20d020"/><path d="M260.40 333.40V327.19" stroke="#20d020"/><path d="M260.85 356.30V359.76" stroke="#a08040"/><path d="M261.30 333.40V328.88" stroke="#20d020"/><path d="M261.75 356.30V359.77" stroke="#3030ff"/><path d="M262.20 356.30V359.92" stroke="#20d020"/><path d="M262.65 333.40V325.93" stroke="#c040c0"/><path d="M262.65 356.30V362.80" stroke="#c040c0"/><path d="M263.10 333.40V328.68" stroke="#ff3030"/><path d="M263.10 356.30V360.76" stroke="#ff3030"/><path d="M263.55 333.40V326.65" stroke="#c040c0"/><path d="M264.00 356.30V363.67" stroke="#a08040"/><path d="M264.45 333.40V326.73" stroke="#a08040"/><path d="M265.35 356.30V362.12" stroke="#a08040"/><path d="M265.80 356.30V360.85" stroke="#20d020"/><path d="M266.25 333.40V330.10" stroke="#c040c0"/><path d="M266.25 356.30V361.39" stroke="#c040c0"/><path d="M266.70 356.30V359.62" stroke="#20d020"/><path d="M267.15 356.30V359.65" stroke="#3030ff"/><path d="M267.60 333.40V325.95" stroke="#ff3030"/><path d="M267.60 356.30V362.45" stroke="#ff3030"/><path d="M268.50 356.30V360.01" stroke="#ff3030"/><path d="M269.40 356.30V359.60" stroke="#20d020"/><path d="M270.75 333.40V326.69" stroke="#20d020"/><path d="M270.75 356.30V361.11" stroke="#20d020"/><path d="M271.20 333.40V328.04" stroke="#3030ff"/><path d="M271.20 356.30V359.60" stroke="#3030ff"/><path d="M271.65 333.40V328.56" stroke="#a08040"/><path d="M271.65 356.30V363.46" stroke="#a08040"/><path d="M272.10 333.40V329.92" stroke="#3030ff"/><path d="M272.10 356.30V359.72" stroke="#3030ff"/><path d="M272.55 333.40V330.06" stroke="#ff3030"/><path d="M272.55 356.30V360.97" stroke="#ff3030"/><path d="M273.00 356.30V359.78" stroke="#c040c0"/></g>
<g mask="url(#mB)"><path d="M150.0 332.0V353.8M150.7 332.5V357.9M154.2 335.0V358.8M155.6 334.6V357.8M156.3 334.6V353.6M157.0 331.6V358.5M159.1 332.7V358.2M160.5 331.0V354.6M162.6 333.0V356.1M164.7 333.3V354.5M169.6 331.6V358.2M173.1 332.6V358.0M175.9 331.6V354.1M178.0 332.9V355.7M179.4 333.1V358.8M180.1 332.1V354.3M181.5 333.1V357.6M182.9 331.0V355.4M184.3 336.6V358.6M185.0 336.5V353.4M185.7 334.9V355.5M186.4 335.3V355.4M187.1 333.5V354.9M189.9 330.9V359.0M191.3 335.6V353.4M192.0 332.9V356.7M194.8 334.6V357.2M196.2 334.0V356.3M199.7 335.1V355.5M201.1 331.1V353.7M203.2 335.9V354.0M206.0 331.4V356.8M210.2 332.6V353.9M211.6 334.4V358.4M213.7 335.5V356.3M215.8 334.5V354.0M216.5 334.8V357.7M217.2 332.6V357.4M218.6 333.1V356.3M222.1 334.6V358.2M224.2 335.7V356.1M224.9 331.1V353.8M227.0 334.7V356.9M230.5 335.8V358.5M231.2 332.4V357.5M233.3 335.3V353.6M236.1 336.6V358.1M236.8 335.5V358.2M237.5 333.7V358.5M238.2 332.7V358.7M239.6 331.6V354.5M240.3 330.8V353.9M241.0 331.2V357.5M241.7 330.9V357.2M242.4 331.9V355.2M243.1 330.7V358.1M243.8 331.6V355.6M245.9 335.3V354.5M248.0 335.1V356.1M250.1 335.6V359.0M250.8 334.1V354.3M251.5 334.6V357.1M252.2 332.6V355.4M252.9 335.7V358.9M253.6 332.6V358.8M256.4 335.6V357.2M257.1 334.7V358.7M257.8 336.2V357.1M259.2 331.2V356.4M259.9 331.1V359.1M260.6 332.2V357.2M263.4 335.1V355.0M264.8 331.8V356.7M265.5 335.9V356.4M268.3 332.5V353.7M269.0 331.9V355.5M272.5 331.0V355.4M273.2 335.4V358.4" stroke="#1a7048" stroke-width="0.5" stroke-opacity="0.35" fill="none"/></g>
<path d="M55.50 448.30v-2.5M55.50 276.00v2.5M99.56 448.30v-2.5M99.56 276.00v2.5M143.62 448.30v-2.5M143.62 276.00v2.5M187.68 448.30v-2.5M187.68 276.00v2.5M231.74 448.30v-2.5M231.74 276.00v2.5M55.50 448.30h2.5M273.60 448.30h-2.5M55.50 413.84h2.5M273.60 413.84h-2.5M55.50 379.38h2.5M273.60 379.38h-2.5M55.50 344.92h2.5M273.60 344.92h-2.5M55.50 310.46h2.5M273.60 310.46h-2.5M55.50 276.00h2.5M273.60 276.00h-2.5" stroke="#444" stroke-width="0.8" fill="none"/>
<text x="55.50" y="465.80" font-size="14.5" text-anchor="middle">0</text>
<text x="99.56" y="465.80" font-size="14.5" text-anchor="middle">1</text>
<text x="143.62" y="465.80" font-size="14.5" text-anchor="middle">2</text>
<text x="187.68" y="465.80" font-size="14.5" text-anchor="middle">3</text>
<text x="231.74" y="465.80" font-size="14.5" text-anchor="middle">4</text>
<text x="51.00" y="453.30" font-size="14.5" text-anchor="end">-6000</text>
<text x="51.00" y="418.84" font-size="14.5" text-anchor="end">-4000</text>
<text x="51.00" y="384.38" font-size="14.5" text-anchor="end">-2000</text>
<text x="51.00" y="349.92" font-size="14.5" text-anchor="end">0</text>
<text x="51.00" y="315.46" font-size="14.5" text-anchor="end">2000</text>
<text x="51.00" y="281.00" font-size="14.5" text-anchor="end">4000</text>
<text x="164.55" y="485.30" font-size="15.2" text-anchor="middle">t,s</text>
<text transform="translate(10.70 362.15) rotate(-90)" font-size="15.2" text-anchor="middle">Is,A</text>
<text x="149.60" y="514.00" font-size="16.5" text-anchor="middle">c)</text>
<rect x="223.40" y="276.40" width="44.20" height="47.10" fill="#fff" stroke="#888888" stroke-width="1"/>
<path d="M225.70 284.90H247.20" stroke="#ff8080" stroke-width="1"/>
<text x="249.50" y="289.50" font-size="13.5">Isa</text>
<path d="M225.70 300.20H247.20" stroke="#8080ff" stroke-width="1"/>
<text x="249.50" y="304.80" font-size="13.5">Isb</text>
<path d="M225.70 315.10H247.20" stroke="#80ff80" stroke-width="1"/>
<text x="249.50" y="319.70" font-size="13.5">Isc</text>
<path d="M429.87 277.50V447.10M483.55 277.50V447.10M537.23 277.50V447.10M376.20 418.83H590.90M376.20 390.57H590.90M376.20 362.30H590.90M376.20 334.03H590.90M376.20 305.77H590.90" stroke="#ededed" stroke-width="1" fill="none"/>
<rect x="376.20" y="277.50" width="214.70" height="169.60" fill="none" stroke="#888888" stroke-width="1"/>
<clipPath id="cd"><rect x="376.20" y="277.50" width="214.70" height="169.60"/></clipPath>
<g clip-path="url(#cd)" fill="none" stroke-width="1" stroke-linejoin="round">
<polyline points="376.3,408.7 378.6,396.6 380.4,389.6 381.5,384.4 383.3,385.4 385.6,378.7 387.9,382.7 389.1,376.3 391.4,368.2 392.5,370 396,358.4 398.9,354.3 401.2,349.7 403,343.9 404.7,340 406.4,330 409.3,333.5 412.2,323.8 414,340 417.8,321.7 418.6,332.7 422.4,317.6 424,330.4 425.2,320 428.4,328.6 430.2,337.9 432.9,339.3 434.6,346.2 436.4,341.6 439.3,354.3 440.4,353.2 442.7,361.3 448.5,374 449.7,372.9 451.4,379.8 452.6,379.2 453.7,390 454.9,395.4 458.4,391.4 461.3,402.4 462.7,383.5 466.8,405.8 468.2,388.5 471.1,410.5 474.6,392 475.4,400 477.5,384.4 479.8,381 482.7,376.3 486,370.5 487.4,374 490.6,363 493.5,357.8 494.7,360.7 497.6,346.8 501.1,338.7 502.8,335.6 504.5,329.8 506.9,331 509.2,324.6 510.3,336.8 516.3,303.7 520.8,340 523.1,313 526,326.3 527.4,339 530,339.8 532.3,336.4 535.2,346.2 537.5,361.3 538.7,357.2 540,362.3 541.7,369.8 543.5,366.9 545.2,375.8 547.5,387.4 549.3,385.1 551,391.4 552.2,388.5 553.3,395.5 556.2,393.2 558.5,394.3 560.9,400.7 562,390.3 563.7,403.6 565.3,389.7 567.6,412.9 571.9,390.9 573,398.4 574.8,381.6 577.1,381 579.4,377 581.1,377.9 584,371 585.8,368.1 587.5,364 589.8,358.2 590.6,362.9" stroke="#ff4d4d"/>
<polyline points="376.3,350.9 378,361.9 380.4,365.9 383.3,374 385,376.3 386.7,381 387.3,385 389.1,392.5 391.4,387.3 393.1,394.8 396,394.8 397.2,389 400.6,399.5 401.8,390.2 403.5,398.9 404.7,390.2 406.4,411.1 408.8,393.1 410.5,402.4 412.2,395.4 413.4,384.4 414.5,382.7 417.4,381.5 418.6,377.5 420.3,374.6 421.5,375.8 424.4,368.2 425.5,370 428.4,358.4 431.9,349.7 432.9,348 434.1,349.7 435.2,340 437,332.7 439,337.9 441,331 445.1,333.3 448,325.2 449.1,334.4 451.4,323.4 452.6,333.9 454.9,313.6 458.4,332.7 459.5,322.9 461.3,327.5 463,341.6 465.9,342.2 467.1,340.4 468.8,353.2 470.5,348 474,360.7 475.2,359.5 476.9,366.5 477.5,364.7 481,377.5 482.7,378.6 485.6,384.4 487.2,393.1 488.9,391.4 490.5,385.5 493,399.5 494.7,386.2 498.2,400.1 499.3,390.2 500.5,400.6 502.2,394.3 504.5,404.1 506.9,394.8 509.2,397.7 509.7,389.6 512.6,386.7 515,387.3 516.1,390.2 520.8,363 522.5,370 525.4,357.8 527.1,361.3 532.3,332.3 536.4,337 538.7,330 541.2,323.5 544,342.3 546.4,331.6 547.5,324.6 548.7,332.2 550,324.6 551.6,331.6 553.3,324.6 556.2,334.5 558.5,337.4 560.9,336.8 562,343.7 563.7,342.6 565.5,351.3 567.2,346.1 570.7,360.5 572.4,362.9 574.8,367.5 578.8,378.1 581.1,387.4 582.9,385.1 584.6,391.4 586.3,389.7 588.1,396.6 589.8,398.4 590.6,383.9" stroke="#4d4dff"/>
<polyline points="376.3,327.3 379.2,327.3 380.4,334.4 384.4,323.8 385.6,334.2 388.5,311.3 391.4,331 392.5,321.7 397.2,334.4 398.9,340 400,339.8 401.2,342.7 404.3,350.9 406.2,346.2 408.8,357.8 410.5,359.5 412.2,367 414,363.6 417.4,378.6 418.6,379.8 420.3,385 422.1,391.4 423.8,389.6 425.5,396 427.9,396 429.6,390.2 432.3,400 434.1,390.8 436.7,412.8 439.3,394.3 440.4,403.5 443.9,388.5 444.5,386.8 448,386.2 449.1,379.2 450.9,381 452.6,372.9 454.3,377.5 458.4,363.6 460.1,363 461.9,356.1 462.4,360.7 467.1,341 469.4,339.3 471.1,329.2 474,333.3 476.3,325.2 477.5,336.8 481.5,323.4 482.7,334.4 485,320 486.2,331.5 487.7,318.2 489.5,331 491.2,325.8 493,333.9 494.1,340.4 495.3,342.7 497.6,342.7 498.7,346.2 503.4,353.2 504.5,352.6 508,363.6 509.7,361.3 516.1,392.5 519.3,384.8 522.5,403 525.4,406.4 527.1,386.7 532.9,419.2 537,387.3 538.7,405.3 540,400.1 541.7,394.3 543.5,377 547,377.9 549.3,371 551,369.2 552.7,366.9 560.9,350.7 564.9,342 567.8,328.7 571.9,332.2 574.2,325.2 575.3,338 577.1,327 579.4,333.9 581.1,325.2 583.4,331 586.9,323.5 588.1,332.7 589.8,331.6 590.6,341.4" stroke="#4dff4d"/>
</g>
<path d="M376.20 447.10v-2.5M376.20 277.50v2.5M429.87 447.10v-2.5M429.87 277.50v2.5M483.55 447.10v-2.5M483.55 277.50v2.5M537.23 447.10v-2.5M537.23 277.50v2.5M590.90 447.10v-2.5M590.90 277.50v2.5M376.20 447.10h2.5M590.90 447.10h-2.5M376.20 418.83h2.5M590.90 418.83h-2.5M376.20 390.57h2.5M590.90 390.57h-2.5M376.20 362.30h2.5M590.90 362.30h-2.5M376.20 334.03h2.5M590.90 334.03h-2.5M376.20 305.77h2.5M590.90 305.77h-2.5M376.20 277.50h2.5M590.90 277.50h-2.5" stroke="#444" stroke-width="0.8" fill="none"/>
<text x="376.20" y="464.60" font-size="14.5" text-anchor="middle">4.91</text>
<text x="429.87" y="464.60" font-size="14.5" text-anchor="middle">4.92</text>
<text x="483.55" y="464.60" font-size="14.5" text-anchor="middle">4.93</text>
<text x="537.23" y="464.60" font-size="14.5" text-anchor="middle">4.94</text>
<text x="590.90" y="464.60" font-size="14.5" text-anchor="middle">4.95</text>
<text x="371.70" y="452.10" font-size="14.5" text-anchor="end">-1500</text>
<text x="371.70" y="423.83" font-size="14.5" text-anchor="end">-1000</text>
<text x="371.70" y="395.57" font-size="14.5" text-anchor="end">-500</text>
<text x="371.70" y="367.30" font-size="14.5" text-anchor="end">0</text>
<text x="371.70" y="339.03" font-size="14.5" text-anchor="end">500</text>
<text x="371.70" y="310.77" font-size="14.5" text-anchor="end">1000</text>
<text x="371.70" y="282.50" font-size="14.5" text-anchor="end">1500</text>
<text x="483.55" y="484.10" font-size="15.2" text-anchor="middle">t,s</text>
<text transform="translate(332.30 362.30) rotate(-90)" font-size="15.2" text-anchor="middle">Is,A</text>
<text x="469.30" y="514.00" font-size="16.5" text-anchor="middle">d)</text>
<rect x="541.60" y="277.60" width="43.10" height="46.40" fill="#fff" stroke="#888888" stroke-width="1"/>
<path d="M543.40 286.30H564.90" stroke="#ff8080" stroke-width="1"/>
<text x="567.00" y="290.90" font-size="13.5">Isa</text>
<path d="M543.40 301.20H564.90" stroke="#8080ff" stroke-width="1"/>
<text x="567.00" y="305.80" font-size="13.5">Isb</text>
<path d="M543.40 316.00H564.90" stroke="#80ff80" stroke-width="1"/>
<text x="567.00" y="320.60" font-size="13.5">Isc</text>
</svg></body></html>
